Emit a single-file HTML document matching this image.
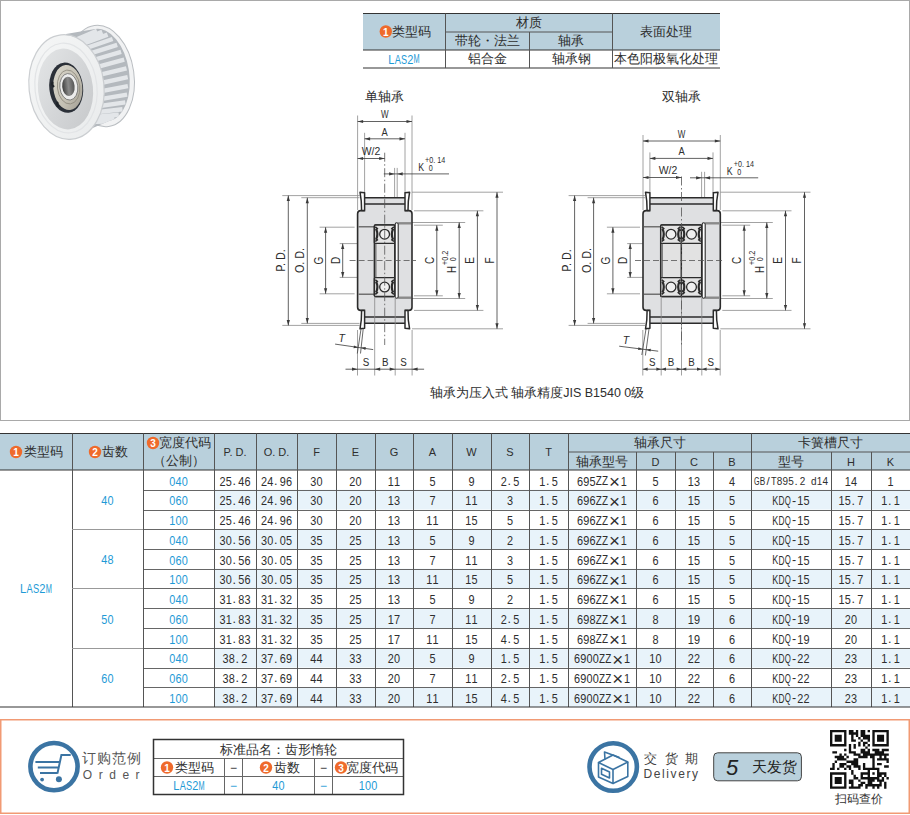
<!DOCTYPE html><html><head><meta charset="utf-8"><style>html,body{margin:0;padding:0;background:#fff;}body{width:910px;height:815px;overflow:hidden;position:relative;}svg{position:absolute;left:0;top:0;font-family:"Liberation Sans", sans-serif;}</style></head><body>
<svg width="910" height="815" viewBox="0 0 910 815">
<rect x="0" y="0" width="910" height="815" fill="#fff" />
<rect x="0.5" y="0.5" width="909" height="420" fill="none" stroke="#a9a9a9" stroke-width="1"/>
<defs>
<linearGradient id="gface" x1="0" y1="0" x2="1" y2="1">
 <stop offset="0" stop-color="#e4e6e7"/><stop offset="0.55" stop-color="#d3d5d7"/><stop offset="1" stop-color="#c6c8ca"/>
</linearGradient>
<linearGradient id="grim" x1="0" y1="0" x2="1" y2="1">
 <stop offset="0" stop-color="#f6f7f7"/><stop offset="1" stop-color="#e9ebec"/>
</linearGradient>
<linearGradient id="gbore" x1="0" y1="0" x2="1" y2="0">
 <stop offset="0" stop-color="#3e3e3e"/><stop offset="0.5" stop-color="#8a8a8a"/><stop offset="1" stop-color="#555"/>
</linearGradient>
<linearGradient id="gshield" x1="0" y1="0" x2="1" y2="1">
 <stop offset="0" stop-color="#dcd9cf"/><stop offset="0.6" stop-color="#c3bfb2"/><stop offset="1" stop-color="#9c988e"/>
</linearGradient>
<clipPath id="cteeth"><path d="M66 34 L95 29 A27 46 -8 0 1 109 121 L74 136 Z"/></clipPath>
</defs>
<ellipse cx="101.5" cy="76" rx="32.5" ry="51" transform="rotate(-8 101.5 76)" fill="#f1f2f3" stroke="#b9bdc1" stroke-width="1"/>
<path d="M66 34 L95 29 A27 46 -8 0 1 109 121 L74 136 Z" fill="#b4b9be"/>
<g clip-path="url(#cteeth)"><path d="M96.9 30.8 L51.9 49.7 M102.3 31.9 L57.3 49.6 M107.6 34.6 L62.6 51.3 M112.6 39.0 L67.6 54.5 M117.2 44.8 L72.2 59.1 M121.1 51.8 L76.1 65.0 M124.2 59.7 L79.2 71.8 M126.5 68.3 L81.5 79.2 M127.7 77.2 L82.7 87.0 M127.9 86.1 L82.9 94.7 M127.1 94.6 L82.1 102.1 M125.3 102.4 L80.3 108.7 M122.5 109.2 L77.5 114.4 M118.8 114.8 L73.8 118.9 M114.5 118.9 L69.5 121.8 M109.7 121.4 L64.7 123.2" stroke="#e3e6e9" stroke-width="4.4" fill="none"/></g>
<ellipse cx="66.5" cy="87" rx="37.5" ry="52.5" transform="rotate(-6 66.5 87)" fill="url(#grim)" stroke="#cbced1" stroke-width="1.2"/>
<ellipse cx="66" cy="88" rx="31" ry="45" transform="rotate(-6 66 88)" fill="none" stroke="#e2e4e6" stroke-width="1.2"/>
<ellipse cx="65.5" cy="89" rx="27.5" ry="40.5" transform="rotate(-6 65.5 89)" fill="url(#gface)"/>
<ellipse cx="66.2" cy="87.7" rx="16.9" ry="25.2" transform="rotate(-6 66.2 87.7)" fill="#2b3038"/>
<ellipse cx="67.8" cy="87.5" rx="14.5" ry="22.6" transform="rotate(-6 67.8 87.5)" fill="url(#gshield)"/><ellipse cx="68.6" cy="87" rx="11.2" ry="17" transform="rotate(-6 68.6 87)" fill="none" stroke="#8d887c" stroke-width="0.8"/>
<ellipse cx="68.8" cy="86.8" rx="9" ry="13.3" transform="rotate(-6 68.8 86.8)" fill="#ececec" stroke="#6f6f6f" stroke-width="0.8"/>
<ellipse cx="68.4" cy="86.4" rx="6.2" ry="9.7" transform="rotate(-6 68.4 86.4)" fill="url(#gbore)"/>
<path d="M53 82 q-2 2 1 5 M58 102 q-2 2 1 5" stroke="#1e2228" stroke-width="2.2" fill="none"/>
<rect x="363" y="13.5" width="357" height="36.5" fill="#b9d0dc" />
<line x1="363" y1="13.5" x2="720" y2="13.5" stroke="#333" stroke-width="1.2" />
<line x1="363" y1="50" x2="720" y2="50" stroke="#333" stroke-width="1" />
<line x1="363" y1="68" x2="720" y2="68" stroke="#333" stroke-width="1.2" />
<line x1="445.5" y1="32" x2="612.5" y2="32" stroke="#555" stroke-width="1" />
<line x1="445.5" y1="13.5" x2="445.5" y2="68" stroke="#555" stroke-width="1" />
<line x1="529.5" y1="32" x2="529.5" y2="68" stroke="#555" stroke-width="1" />
<line x1="612.5" y1="13.5" x2="612.5" y2="68" stroke="#555" stroke-width="1" />
<circle cx="385.8" cy="31.5" r="6.2" fill="#ef6a2b"/>
<text x="385.8" y="32.0" font-size="10" fill="#fff" text-anchor="middle" dominant-baseline="central" font-weight="bold">1</text>
<text x="411" y="31.5" font-size="12.5" fill="#2e2e2e" text-anchor="middle" dominant-baseline="central" >类型码</text>
<text x="528.5" y="22.5" font-size="12.5" fill="#2e2e2e" text-anchor="middle" dominant-baseline="central" >材质</text>
<text x="487" y="41" font-size="12.5" fill="#2e2e2e" text-anchor="middle" dominant-baseline="central" >带轮・法兰</text>
<text x="571" y="41" font-size="12.5" fill="#2e2e2e" text-anchor="middle" dominant-baseline="central" >轴承</text>
<text x="666" y="31.5" font-size="12.5" fill="#2e2e2e" text-anchor="middle" dominant-baseline="central" >表面处理</text>
<text x="0" y="0" font-size="12.5" fill="#1e9ad6" text-anchor="middle" dominant-baseline="central" transform="translate(391.40 59) scale(0.879 1)">L</text>
<text x="0" y="0" font-size="12.5" fill="#1e9ad6" text-anchor="middle" dominant-baseline="central" transform="translate(397.70 59) scale(0.733 1)">A</text>
<text x="0" y="0" font-size="12.5" fill="#1e9ad6" text-anchor="middle" dominant-baseline="central" transform="translate(404.00 59) scale(0.733 1)">S</text>
<text x="0" y="0" font-size="12.5" fill="#1e9ad6" text-anchor="middle" dominant-baseline="central" transform="translate(410.30 59) scale(0.879 1)">2</text>
<text x="0" y="0" font-size="12.5" fill="#1e9ad6" text-anchor="middle" dominant-baseline="central" transform="translate(416.60 59) scale(0.587 1)">M</text>
<text x="487" y="59" font-size="12.5" fill="#2e2e2e" text-anchor="middle" dominant-baseline="central" >铝合金</text>
<text x="571" y="59" font-size="12.5" fill="#2e2e2e" text-anchor="middle" dominant-baseline="central" >轴承钢</text>
<text x="666" y="59" font-size="12.5" fill="#2e2e2e" text-anchor="middle" dominant-baseline="central" >本色阳极氧化处理</text>
<line x1="282.3" y1="195.6" x2="359.6" y2="195.6" stroke="#8a8a8a" stroke-width="0.8" />
<line x1="282.3" y1="325.4" x2="359.6" y2="325.4" stroke="#8a8a8a" stroke-width="0.8" />
<line x1="301.3" y1="197.7" x2="359.6" y2="197.7" stroke="#8a8a8a" stroke-width="0.8" />
<line x1="301.3" y1="323.4" x2="359.6" y2="323.4" stroke="#8a8a8a" stroke-width="0.8" />
<line x1="319.6" y1="227.2" x2="354.6" y2="227.2" stroke="#8a8a8a" stroke-width="0.8" />
<line x1="319.6" y1="293.8" x2="354.6" y2="293.8" stroke="#8a8a8a" stroke-width="0.8" />
<line x1="339.7" y1="243.6" x2="369.6" y2="243.6" stroke="#8a8a8a" stroke-width="0.8" />
<line x1="339.7" y1="277.4" x2="369.6" y2="277.4" stroke="#8a8a8a" stroke-width="0.8" />
<line x1="414.0" y1="225.2" x2="442.8" y2="225.2" stroke="#8a8a8a" stroke-width="0.8" />
<line x1="414.0" y1="295.8" x2="442.8" y2="295.8" stroke="#8a8a8a" stroke-width="0.8" />
<line x1="411.0" y1="222.5" x2="465.2" y2="222.5" stroke="#8a8a8a" stroke-width="0.8" />
<line x1="411.0" y1="298.5" x2="465.2" y2="298.5" stroke="#8a8a8a" stroke-width="0.8" />
<line x1="414.0" y1="210.8" x2="483.4" y2="210.8" stroke="#8a8a8a" stroke-width="0.8" />
<line x1="414.0" y1="310.4" x2="483.4" y2="310.4" stroke="#8a8a8a" stroke-width="0.8" />
<line x1="412.0" y1="192.2" x2="503.0" y2="192.2" stroke="#8a8a8a" stroke-width="0.8" />
<line x1="412.0" y1="328.8" x2="503.0" y2="328.8" stroke="#8a8a8a" stroke-width="0.8" />
<line x1="357.6" y1="115.5" x2="357.6" y2="210" stroke="#8a8a8a" stroke-width="0.8" />
<line x1="412.0" y1="115.5" x2="412.0" y2="210" stroke="#8a8a8a" stroke-width="0.8" />
<line x1="364.6" y1="132.8" x2="364.6" y2="193" stroke="#8a8a8a" stroke-width="0.8" />
<line x1="405.0" y1="132.8" x2="405.0" y2="193" stroke="#8a8a8a" stroke-width="0.8" />
<line x1="394.6" y1="167.9" x2="394.6" y2="222" stroke="#8a8a8a" stroke-width="0.8" />
<line x1="397.2" y1="167.9" x2="397.2" y2="222" stroke="#8a8a8a" stroke-width="0.8" />
<line x1="357.5" y1="330" x2="357.5" y2="375.5" stroke="#8a8a8a" stroke-width="0.8" />
<line x1="374.7" y1="330" x2="374.7" y2="375.5" stroke="#8a8a8a" stroke-width="0.8" />
<line x1="395.2" y1="330" x2="395.2" y2="375.5" stroke="#8a8a8a" stroke-width="0.8" />
<line x1="412.1" y1="330" x2="412.1" y2="375.5" stroke="#8a8a8a" stroke-width="0.8" />
<path d="M357.6 213.79999999999998 Q357.6 210.6 360.8 210.6 L408.8 210.6 Q412.0 210.6 412.0 213.79999999999998 L412.0 307.2 Q412.0 310.4 408.8 310.4 L360.8 310.4 Q357.6 310.4 357.6 307.2 Z" fill="#dfe0e2" stroke="#2b2b2b" stroke-width="1.6"/>
<rect x="364.6" y="197.8" width="40.39999999999998" height="13.599999999999984" fill="#dfe0e2" />
<rect x="364.6" y="309.59999999999997" width="40.39999999999998" height="13.600000000000012" fill="#dfe0e2" />
<line x1="364.6" y1="197.8" x2="405.0" y2="197.8" stroke="#2b2b2b" stroke-width="1.5" />
<line x1="364.6" y1="204.0" x2="405.0" y2="204.0" stroke="#2b2b2b" stroke-width="1.7" />
<line x1="364.6" y1="317.0" x2="405.0" y2="317.0" stroke="#2b2b2b" stroke-width="1.7" />
<line x1="364.6" y1="323.2" x2="405.0" y2="323.2" stroke="#2b2b2b" stroke-width="1.5" />
<rect x="365.40000000000003" y="209" width="38.799999999999976" height="3.5" fill="#dfe0e2" />
<rect x="365.40000000000003" y="308.5" width="38.799999999999976" height="3.5" fill="#dfe0e2" />
<path d="M360.0 192.2 Q361.8 201.39999999999998 361.6 210.6 L364.6 210.6 L364.6 192.79999999999998 Z" fill="#fff" stroke="#2b2b2b" stroke-width="1.5" stroke-linejoin="round"/>
<path d="M409.6 192.2 Q407.8 201.39999999999998 408.0 210.6 L405.0 210.6 L405.0 192.79999999999998 Z" fill="#fff" stroke="#2b2b2b" stroke-width="1.5" stroke-linejoin="round"/>
<path d="M360.0 328.8 Q361.8 319.6 361.6 310.4 L364.6 310.4 L364.6 328.2 Z" fill="#fff" stroke="#2b2b2b" stroke-width="1.5" stroke-linejoin="round"/>
<path d="M409.6 328.8 Q407.8 319.6 408.0 310.4 L405.0 310.4 L405.0 328.2 Z" fill="#fff" stroke="#2b2b2b" stroke-width="1.5" stroke-linejoin="round"/>
<line x1="358.6" y1="226.8" x2="374.4" y2="226.8" stroke="#555" stroke-width="1.2" />
<line x1="358.6" y1="294.2" x2="374.4" y2="294.2" stroke="#555" stroke-width="1.2" />
<line x1="398.2" y1="223.3" x2="411.0" y2="223.3" stroke="#8a8a8a" stroke-width="2.4" />
<line x1="398.2" y1="297.7" x2="411.0" y2="297.7" stroke="#8a8a8a" stroke-width="2.4" />
<rect x="374.4" y="225" width="20.400000000000034" height="71.5" fill="#e2e2e2" stroke="#2b2b2b" stroke-width="1.5" rx="1.2"/>
<rect x="374.4" y="225" width="20.400000000000034" height="18.400000000000006" fill="#e4e4e4" stroke="#2b2b2b" stroke-width="1.4" rx="1"/>
<path d="M376.0 228.7 q2.8 5.5 0 11 M393.20000000000005 228.7 q-2.8 5.5 0 11" stroke="#2b2b2b" stroke-width="2.2" fill="none"/>
<path d="M375.3 226.89999999999998 l2.6 2.2 M375.3 241.5 l2.6 -2.2 M393.90000000000003 226.89999999999998 l-2.6 2.2 M393.90000000000003 241.5 l-2.6 -2.2" stroke="#2b2b2b" stroke-width="1.6"/>
<circle cx="384.6" cy="234.2" r="4.9" fill="#f0f0f0" stroke="#2b2b2b" stroke-width="1.3"/>
<rect x="374.4" y="277.6" width="20.400000000000034" height="18.899999999999977" fill="#e4e4e4" stroke="#2b2b2b" stroke-width="1.4" rx="1"/>
<path d="M376.0 281.55 q2.8 5.5 0 11 M393.20000000000005 281.55 q-2.8 5.5 0 11" stroke="#2b2b2b" stroke-width="2.2" fill="none"/>
<path d="M375.3 279.75 l2.6 2.2 M375.3 294.35 l2.6 -2.2 M393.90000000000003 279.75 l-2.6 2.2 M393.90000000000003 294.35 l-2.6 -2.2" stroke="#2b2b2b" stroke-width="1.6"/>
<circle cx="384.6" cy="287.05" r="4.9" fill="#f0f0f0" stroke="#2b2b2b" stroke-width="1.3"/>
<line x1="375.9" y1="243.4" x2="375.9" y2="277.6" stroke="#444" stroke-width="0.9" />
<rect x="395.2" y="222.8" width="3" height="75.5" rx="1.5" fill="#fff" stroke="#2b2b2b" stroke-width="1.1"/>
<line x1="374.7" y1="296.5" x2="374.7" y2="330" stroke="#888" stroke-width="0.8" />
<line x1="395.2" y1="296.5" x2="395.2" y2="330" stroke="#888" stroke-width="0.8" />
<line x1="384.7" y1="152.7" x2="384.7" y2="345" stroke="#555" stroke-width="0.8" stroke-dasharray="9 2.5 1.5 2.5"/>
<line x1="349.6" y1="260.5" x2="416.0" y2="260.5" stroke="#555" stroke-width="0.8" stroke-dasharray="6 3"/>
<line x1="357.6" y1="121.5" x2="412.0" y2="121.5" stroke="#3a3a3a" stroke-width="0.8" />
<path d="M357.60 121.50 L363.10 119.90 L363.10 123.10 Z" fill="#3a3a3a"/>
<path d="M412.00 121.50 L406.50 123.10 L406.50 119.90 Z" fill="#3a3a3a"/>
<line x1="364.6" y1="138.8" x2="405.0" y2="138.8" stroke="#3a3a3a" stroke-width="0.8" />
<path d="M364.60 138.80 L370.10 137.20 L370.10 140.40 Z" fill="#3a3a3a"/>
<path d="M405.00 138.80 L399.50 140.40 L399.50 137.20 Z" fill="#3a3a3a"/>
<line x1="357.6" y1="158.5" x2="384.7" y2="158.5" stroke="#3a3a3a" stroke-width="0.8" />
<path d="M357.60 158.50 L363.10 156.90 L363.10 160.10 Z" fill="#3a3a3a"/>
<path d="M384.70 158.50 L379.20 160.10 L379.20 156.90 Z" fill="#3a3a3a"/>
<line x1="383.8" y1="173.9" x2="449" y2="173.9" stroke="#3a3a3a" stroke-width="0.8" />
<path d="M394.60 173.90 L389.10 175.50 L389.10 172.30 Z" fill="#3a3a3a"/>
<path d="M397.20 173.90 L402.70 172.30 L402.70 175.50 Z" fill="#3a3a3a"/>
<line x1="288.3" y1="195.6" x2="288.3" y2="325.4" stroke="#3a3a3a" stroke-width="0.8" />
<path d="M288.30 195.60 L289.90 201.10 L286.70 201.10 Z" fill="#3a3a3a"/>
<path d="M288.30 325.40 L286.70 319.90 L289.90 319.90 Z" fill="#3a3a3a"/>
<line x1="307.3" y1="197.7" x2="307.3" y2="323.4" stroke="#3a3a3a" stroke-width="0.8" />
<path d="M307.30 197.70 L308.90 203.20 L305.70 203.20 Z" fill="#3a3a3a"/>
<path d="M307.30 323.40 L305.70 317.90 L308.90 317.90 Z" fill="#3a3a3a"/>
<line x1="325.6" y1="227.2" x2="325.6" y2="293.8" stroke="#3a3a3a" stroke-width="0.8" />
<path d="M325.60 227.20 L327.20 232.70 L324.00 232.70 Z" fill="#3a3a3a"/>
<path d="M325.60 293.80 L324.00 288.30 L327.20 288.30 Z" fill="#3a3a3a"/>
<line x1="342.7" y1="243.6" x2="342.7" y2="277.4" stroke="#3a3a3a" stroke-width="0.8" />
<path d="M342.70 243.60 L344.30 249.10 L341.10 249.10 Z" fill="#3a3a3a"/>
<path d="M342.70 277.40 L341.10 271.90 L344.30 271.90 Z" fill="#3a3a3a"/>
<line x1="436.8" y1="225.2" x2="436.8" y2="295.8" stroke="#3a3a3a" stroke-width="0.8" />
<path d="M436.80 225.20 L438.40 230.70 L435.20 230.70 Z" fill="#3a3a3a"/>
<path d="M436.80 295.80 L435.20 290.30 L438.40 290.30 Z" fill="#3a3a3a"/>
<line x1="459.2" y1="222.5" x2="459.2" y2="298.5" stroke="#3a3a3a" stroke-width="0.8" />
<path d="M459.20 222.50 L460.80 228.00 L457.60 228.00 Z" fill="#3a3a3a"/>
<path d="M459.20 298.50 L457.60 293.00 L460.80 293.00 Z" fill="#3a3a3a"/>
<line x1="477.4" y1="210.8" x2="477.4" y2="310.4" stroke="#3a3a3a" stroke-width="0.8" />
<path d="M477.40 210.80 L479.00 216.30 L475.80 216.30 Z" fill="#3a3a3a"/>
<path d="M477.40 310.40 L475.80 304.90 L479.00 304.90 Z" fill="#3a3a3a"/>
<line x1="497.0" y1="192.2" x2="497.0" y2="328.8" stroke="#3a3a3a" stroke-width="0.8" />
<path d="M497.00 192.20 L498.60 197.70 L495.40 197.70 Z" fill="#3a3a3a"/>
<path d="M497.00 328.80 L495.40 323.30 L498.60 323.30 Z" fill="#3a3a3a"/>
<line x1="345.5" y1="369.2" x2="424.1" y2="369.2" stroke="#3a3a3a" stroke-width="0.8" />
<path d="M357.50 369.20 L352.00 370.80 L352.00 367.60 Z" fill="#3a3a3a"/>
<path d="M412.10 369.20 L417.60 367.60 L417.60 370.80 Z" fill="#3a3a3a"/>
<path d="M374.70 369.20 L380.20 367.60 L380.20 370.80 Z" fill="#3a3a3a"/>
<path d="M395.20 369.20 L389.70 370.80 L389.70 367.60 Z" fill="#3a3a3a"/>
<line x1="361" y1="329" x2="357.3" y2="353.5" stroke="#444" stroke-width="0.8" />
<line x1="363.2" y1="329" x2="360.5" y2="353.5" stroke="#444" stroke-width="0.8" />
<line x1="335.1" y1="344.1" x2="373.2" y2="349.6" stroke="#3a3a3a" stroke-width="0.8" />
<path d="M358.22 347.44 L353.56 348.18 L353.96 345.41 Z" fill="#3a3a3a"/>
<path d="M361.12 347.86 L365.78 347.11 L365.38 349.89 Z" fill="#3a3a3a"/>
<text x="384.7" y="96.5" font-size="12.5" fill="#2e2e2e" text-anchor="middle" dominant-baseline="central" >单轴承</text>
<text x="0" y="0" font-size="11.5" fill="#2e2e2e" text-anchor="middle" dominant-baseline="central" transform="translate(384.7 114.2) scale(0.7 1)" >W</text>
<text x="0" y="0" font-size="11" fill="#2e2e2e" text-anchor="middle" dominant-baseline="central" transform="translate(384.7 132.0) scale(0.85 1)" >A</text>
<text x="0" y="0" font-size="11" fill="#2e2e2e" text-anchor="middle" dominant-baseline="central" transform="translate(371 150.9) scale(0.95 1)" >W/2</text>
<text x="0" y="0" font-size="11" fill="#2e2e2e" text-anchor="middle" dominant-baseline="central" transform="translate(421.2 166.8) scale(0.8 1)" >K</text>
<text x="0" y="0" font-size="9" fill="#2e2e2e" text-anchor="middle" dominant-baseline="central" transform="translate(435.2 160.0) scale(0.8 1)" >+0. 14</text>
<text x="0" y="0" font-size="9" fill="#2e2e2e" text-anchor="middle" dominant-baseline="central" transform="translate(430.7 168.4) scale(0.8 1)" >0</text>
<text x="0" y="0" font-size="12" fill="#2e2e2e" text-anchor="middle" dominant-baseline="central" transform="translate(280.6 260.5) rotate(-90) scale(0.9 1)">P. D.</text>
<text x="0" y="0" font-size="12" fill="#2e2e2e" text-anchor="middle" dominant-baseline="central" transform="translate(300.0 260.5) rotate(-90) scale(0.9 1)">O. D.</text>
<text x="0" y="0" font-size="12.5" fill="#2e2e2e" text-anchor="middle" dominant-baseline="central" transform="translate(318.1 260.5) rotate(-90) scale(0.8 1)">G</text>
<text x="0" y="0" font-size="12.5" fill="#2e2e2e" text-anchor="middle" dominant-baseline="central" transform="translate(335.3 260.5) rotate(-90) scale(0.8 1)">D</text>
<text x="0" y="0" font-size="12.5" fill="#2e2e2e" text-anchor="middle" dominant-baseline="central" transform="translate(429.6 260.5) rotate(-90) scale(0.8 1)">C</text>
<text x="0" y="0" font-size="12" fill="#2e2e2e" text-anchor="middle" dominant-baseline="central" transform="translate(452.0 269.5) rotate(-90) scale(0.8 1)">H</text>
<text x="0" y="0" font-size="8.5" fill="#2e2e2e" text-anchor="middle" dominant-baseline="central" transform="translate(445.2 257.9) rotate(-90) scale(0.85 1)">+0.2</text>
<text x="0" y="0" font-size="8.5" fill="#2e2e2e" text-anchor="middle" dominant-baseline="central" transform="translate(453.2 259.3) rotate(-90) scale(0.85 1)">0</text>
<text x="0" y="0" font-size="12.5" fill="#2e2e2e" text-anchor="middle" dominant-baseline="central" transform="translate(469.79999999999995 260.5) rotate(-90) scale(0.8 1)">E</text>
<text x="0" y="0" font-size="12.5" fill="#2e2e2e" text-anchor="middle" dominant-baseline="central" transform="translate(489.1 260.5) rotate(-90) scale(0.8 1)">F</text>
<text x="0" y="0" font-size="11.5" fill="#2e2e2e" text-anchor="middle" dominant-baseline="central" transform="translate(366 362) scale(0.85 1)" >S</text>
<text x="0" y="0" font-size="11.5" fill="#2e2e2e" text-anchor="middle" dominant-baseline="central" transform="translate(385.3 362) scale(0.85 1)" >B</text>
<text x="0" y="0" font-size="11.5" fill="#2e2e2e" text-anchor="middle" dominant-baseline="central" transform="translate(403.6 362) scale(0.85 1)" >S</text>
<text x="341.8" y="337.8" font-size="10.5" fill="#2e2e2e" text-anchor="middle" dominant-baseline="central" font-style="italic">T</text>
<line x1="568.6" y1="195.6" x2="645.0" y2="195.6" stroke="#8a8a8a" stroke-width="0.8" />
<line x1="568.6" y1="325.4" x2="645.0" y2="325.4" stroke="#8a8a8a" stroke-width="0.8" />
<line x1="587.6" y1="197.7" x2="645.0" y2="197.7" stroke="#8a8a8a" stroke-width="0.8" />
<line x1="587.6" y1="323.4" x2="645.0" y2="323.4" stroke="#8a8a8a" stroke-width="0.8" />
<line x1="606.9" y1="227.2" x2="640.0" y2="227.2" stroke="#8a8a8a" stroke-width="0.8" />
<line x1="606.9" y1="293.8" x2="640.0" y2="293.8" stroke="#8a8a8a" stroke-width="0.8" />
<line x1="627.2" y1="243.6" x2="655.0" y2="243.6" stroke="#8a8a8a" stroke-width="0.8" />
<line x1="627.2" y1="277.4" x2="655.0" y2="277.4" stroke="#8a8a8a" stroke-width="0.8" />
<line x1="722.3" y1="225.2" x2="750.2" y2="225.2" stroke="#8a8a8a" stroke-width="0.8" />
<line x1="722.3" y1="295.8" x2="750.2" y2="295.8" stroke="#8a8a8a" stroke-width="0.8" />
<line x1="719.3" y1="222.5" x2="772.8" y2="222.5" stroke="#8a8a8a" stroke-width="0.8" />
<line x1="719.3" y1="298.5" x2="772.8" y2="298.5" stroke="#8a8a8a" stroke-width="0.8" />
<line x1="722.3" y1="210.8" x2="791.5" y2="210.8" stroke="#8a8a8a" stroke-width="0.8" />
<line x1="722.3" y1="310.4" x2="791.5" y2="310.4" stroke="#8a8a8a" stroke-width="0.8" />
<line x1="720.3" y1="192.2" x2="810.5" y2="192.2" stroke="#8a8a8a" stroke-width="0.8" />
<line x1="720.3" y1="328.8" x2="810.5" y2="328.8" stroke="#8a8a8a" stroke-width="0.8" />
<line x1="643.0" y1="135.0" x2="643.0" y2="210" stroke="#8a8a8a" stroke-width="0.8" />
<line x1="720.3" y1="135.0" x2="720.3" y2="210" stroke="#8a8a8a" stroke-width="0.8" />
<line x1="649.9" y1="152.4" x2="649.9" y2="193" stroke="#8a8a8a" stroke-width="0.8" />
<line x1="713.0" y1="152.4" x2="713.0" y2="193" stroke="#8a8a8a" stroke-width="0.8" />
<line x1="701.6" y1="171.8" x2="701.6" y2="222" stroke="#8a8a8a" stroke-width="0.8" />
<line x1="704.6" y1="171.8" x2="704.6" y2="222" stroke="#8a8a8a" stroke-width="0.8" />
<line x1="642.8" y1="330" x2="642.8" y2="375.5" stroke="#8a8a8a" stroke-width="0.8" />
<line x1="661.2" y1="330" x2="661.2" y2="375.5" stroke="#8a8a8a" stroke-width="0.8" />
<line x1="681.5" y1="330" x2="681.5" y2="375.5" stroke="#8a8a8a" stroke-width="0.8" />
<line x1="701.8" y1="330" x2="701.8" y2="375.5" stroke="#8a8a8a" stroke-width="0.8" />
<line x1="720.2" y1="330" x2="720.2" y2="375.5" stroke="#8a8a8a" stroke-width="0.8" />
<path d="M643.0 213.79999999999998 Q643.0 210.6 646.2 210.6 L717.0999999999999 210.6 Q720.3 210.6 720.3 213.79999999999998 L720.3 307.2 Q720.3 310.4 717.0999999999999 310.4 L646.2 310.4 Q643.0 310.4 643.0 307.2 Z" fill="#dfe0e2" stroke="#2b2b2b" stroke-width="1.6"/>
<rect x="649.9" y="197.8" width="63.39999999999998" height="13.599999999999984" fill="#dfe0e2" />
<rect x="649.9" y="309.59999999999997" width="63.39999999999998" height="13.600000000000012" fill="#dfe0e2" />
<line x1="649.9" y1="197.8" x2="713.3" y2="197.8" stroke="#2b2b2b" stroke-width="1.5" />
<line x1="649.9" y1="204.0" x2="713.3" y2="204.0" stroke="#2b2b2b" stroke-width="1.7" />
<line x1="649.9" y1="317.0" x2="713.3" y2="317.0" stroke="#2b2b2b" stroke-width="1.7" />
<line x1="649.9" y1="323.2" x2="713.3" y2="323.2" stroke="#2b2b2b" stroke-width="1.5" />
<rect x="650.6999999999999" y="209" width="61.799999999999976" height="3.5" fill="#dfe0e2" />
<rect x="650.6999999999999" y="308.5" width="61.799999999999976" height="3.5" fill="#dfe0e2" />
<path d="M645.5 192.2 Q647.3 201.39999999999998 647.1 210.6 L649.9 210.6 L649.9 192.79999999999998 Z" fill="#fff" stroke="#2b2b2b" stroke-width="1.5" stroke-linejoin="round"/>
<path d="M718.0 192.2 Q716.2 201.39999999999998 716.4 210.6 L713.3 210.6 L713.3 192.79999999999998 Z" fill="#fff" stroke="#2b2b2b" stroke-width="1.5" stroke-linejoin="round"/>
<path d="M645.5 328.8 Q647.3 319.6 647.1 310.4 L649.9 310.4 L649.9 328.2 Z" fill="#fff" stroke="#2b2b2b" stroke-width="1.5" stroke-linejoin="round"/>
<path d="M718.0 328.8 Q716.2 319.6 716.4 310.4 L713.3 310.4 L713.3 328.2 Z" fill="#fff" stroke="#2b2b2b" stroke-width="1.5" stroke-linejoin="round"/>
<line x1="644.0" y1="226.8" x2="660.7" y2="226.8" stroke="#555" stroke-width="1.2" />
<line x1="644.0" y1="294.2" x2="660.7" y2="294.2" stroke="#555" stroke-width="1.2" />
<line x1="705.2" y1="223.3" x2="719.3" y2="223.3" stroke="#8a8a8a" stroke-width="2.4" />
<line x1="705.2" y1="297.7" x2="719.3" y2="297.7" stroke="#8a8a8a" stroke-width="2.4" />
<rect x="660.7" y="225" width="41.0" height="71.5" fill="#e2e2e2" stroke="#2b2b2b" stroke-width="1.5" rx="1.2"/>
<rect x="660.7" y="225" width="41.0" height="18.400000000000006" fill="#e4e4e4" stroke="#2b2b2b" stroke-width="1.4" rx="1"/>
<path d="M662.4 228.7 q2.8 5.5 0 11 M679.6 228.7 q-2.8 5.5 0 11" stroke="#2b2b2b" stroke-width="2.2" fill="none"/>
<path d="M661.7 226.89999999999998 l2.6 2.2 M661.7 241.5 l2.6 -2.2 M680.3 226.89999999999998 l-2.6 2.2 M680.3 241.5 l-2.6 -2.2" stroke="#2b2b2b" stroke-width="1.6"/>
<circle cx="671.0" cy="234.2" r="4.9" fill="#f0f0f0" stroke="#2b2b2b" stroke-width="1.3"/>
<path d="M682.9 228.7 q2.8 5.5 0 11 M700.1 228.7 q-2.8 5.5 0 11" stroke="#2b2b2b" stroke-width="2.2" fill="none"/>
<path d="M682.2 226.89999999999998 l2.6 2.2 M682.2 241.5 l2.6 -2.2 M700.8 226.89999999999998 l-2.6 2.2 M700.8 241.5 l-2.6 -2.2" stroke="#2b2b2b" stroke-width="1.6"/>
<circle cx="691.5" cy="234.2" r="4.9" fill="#f0f0f0" stroke="#2b2b2b" stroke-width="1.3"/>
<rect x="660.7" y="277.6" width="41.0" height="18.899999999999977" fill="#e4e4e4" stroke="#2b2b2b" stroke-width="1.4" rx="1"/>
<path d="M662.4 281.55 q2.8 5.5 0 11 M679.6 281.55 q-2.8 5.5 0 11" stroke="#2b2b2b" stroke-width="2.2" fill="none"/>
<path d="M661.7 279.75 l2.6 2.2 M661.7 294.35 l2.6 -2.2 M680.3 279.75 l-2.6 2.2 M680.3 294.35 l-2.6 -2.2" stroke="#2b2b2b" stroke-width="1.6"/>
<circle cx="671.0" cy="287.05" r="4.9" fill="#f0f0f0" stroke="#2b2b2b" stroke-width="1.3"/>
<path d="M682.9 281.55 q2.8 5.5 0 11 M700.1 281.55 q-2.8 5.5 0 11" stroke="#2b2b2b" stroke-width="2.2" fill="none"/>
<path d="M682.2 279.75 l2.6 2.2 M682.2 294.35 l2.6 -2.2 M700.8 279.75 l-2.6 2.2 M700.8 294.35 l-2.6 -2.2" stroke="#2b2b2b" stroke-width="1.6"/>
<circle cx="691.5" cy="287.05" r="4.9" fill="#f0f0f0" stroke="#2b2b2b" stroke-width="1.3"/>
<line x1="681.3" y1="225" x2="681.3" y2="296.5" stroke="#2b2b2b" stroke-width="1.5" />
<path d="M679.3 230.2 h4 M679.3 238.2 h4" stroke="#2b2b2b" stroke-width="1.6"/>
<path d="M679.3 283 h4 M679.3 291 h4" stroke="#2b2b2b" stroke-width="1.6"/>
<line x1="662.2" y1="243.4" x2="662.2" y2="277.6" stroke="#444" stroke-width="0.9" />
<rect x="702.2" y="222.8" width="3" height="75.5" rx="1.5" fill="#fff" stroke="#2b2b2b" stroke-width="1.1"/>
<line x1="661.2" y1="296.5" x2="661.2" y2="330" stroke="#888" stroke-width="0.8" />
<line x1="681.5" y1="296.5" x2="681.5" y2="330" stroke="#888" stroke-width="0.8" />
<line x1="701.8" y1="296.5" x2="701.8" y2="330" stroke="#888" stroke-width="0.8" />
<line x1="681.5" y1="176.5" x2="681.5" y2="345" stroke="#555" stroke-width="0.8" stroke-dasharray="9 2.5 1.5 2.5"/>
<line x1="635.0" y1="260.5" x2="724.3" y2="260.5" stroke="#555" stroke-width="0.8" stroke-dasharray="6 3"/>
<line x1="643.0" y1="141.0" x2="720.3" y2="141.0" stroke="#3a3a3a" stroke-width="0.8" />
<path d="M643.00 141.00 L648.50 139.40 L648.50 142.60 Z" fill="#3a3a3a"/>
<path d="M720.30 141.00 L714.80 142.60 L714.80 139.40 Z" fill="#3a3a3a"/>
<line x1="649.9" y1="158.4" x2="713.0" y2="158.4" stroke="#3a3a3a" stroke-width="0.8" />
<path d="M649.90 158.40 L655.40 156.80 L655.40 160.00 Z" fill="#3a3a3a"/>
<path d="M713.00 158.40 L707.50 160.00 L707.50 156.80 Z" fill="#3a3a3a"/>
<line x1="643.0" y1="177.5" x2="681.5" y2="177.5" stroke="#3a3a3a" stroke-width="0.8" />
<path d="M643.00 177.50 L648.50 175.90 L648.50 179.10 Z" fill="#3a3a3a"/>
<path d="M681.50 177.50 L676.00 179.10 L676.00 175.90 Z" fill="#3a3a3a"/>
<line x1="690" y1="177.8" x2="758.2" y2="177.8" stroke="#3a3a3a" stroke-width="0.8" />
<path d="M701.60 177.80 L696.10 179.40 L696.10 176.20 Z" fill="#3a3a3a"/>
<path d="M704.60 177.80 L710.10 176.20 L710.10 179.40 Z" fill="#3a3a3a"/>
<line x1="574.6" y1="195.6" x2="574.6" y2="325.4" stroke="#3a3a3a" stroke-width="0.8" />
<path d="M574.60 195.60 L576.20 201.10 L573.00 201.10 Z" fill="#3a3a3a"/>
<path d="M574.60 325.40 L573.00 319.90 L576.20 319.90 Z" fill="#3a3a3a"/>
<line x1="593.6" y1="197.7" x2="593.6" y2="323.4" stroke="#3a3a3a" stroke-width="0.8" />
<path d="M593.60 197.70 L595.20 203.20 L592.00 203.20 Z" fill="#3a3a3a"/>
<path d="M593.60 323.40 L592.00 317.90 L595.20 317.90 Z" fill="#3a3a3a"/>
<line x1="612.9" y1="227.2" x2="612.9" y2="293.8" stroke="#3a3a3a" stroke-width="0.8" />
<path d="M612.90 227.20 L614.50 232.70 L611.30 232.70 Z" fill="#3a3a3a"/>
<path d="M612.90 293.80 L611.30 288.30 L614.50 288.30 Z" fill="#3a3a3a"/>
<line x1="630.2" y1="243.6" x2="630.2" y2="277.4" stroke="#3a3a3a" stroke-width="0.8" />
<path d="M630.20 243.60 L631.80 249.10 L628.60 249.10 Z" fill="#3a3a3a"/>
<path d="M630.20 277.40 L628.60 271.90 L631.80 271.90 Z" fill="#3a3a3a"/>
<line x1="744.2" y1="225.2" x2="744.2" y2="295.8" stroke="#3a3a3a" stroke-width="0.8" />
<path d="M744.20 225.20 L745.80 230.70 L742.60 230.70 Z" fill="#3a3a3a"/>
<path d="M744.20 295.80 L742.60 290.30 L745.80 290.30 Z" fill="#3a3a3a"/>
<line x1="766.8" y1="222.5" x2="766.8" y2="298.5" stroke="#3a3a3a" stroke-width="0.8" />
<path d="M766.80 222.50 L768.40 228.00 L765.20 228.00 Z" fill="#3a3a3a"/>
<path d="M766.80 298.50 L765.20 293.00 L768.40 293.00 Z" fill="#3a3a3a"/>
<line x1="785.5" y1="210.8" x2="785.5" y2="310.4" stroke="#3a3a3a" stroke-width="0.8" />
<path d="M785.50 210.80 L787.10 216.30 L783.90 216.30 Z" fill="#3a3a3a"/>
<path d="M785.50 310.40 L783.90 304.90 L787.10 304.90 Z" fill="#3a3a3a"/>
<line x1="804.5" y1="192.2" x2="804.5" y2="328.8" stroke="#3a3a3a" stroke-width="0.8" />
<path d="M804.50 192.20 L806.10 197.70 L802.90 197.70 Z" fill="#3a3a3a"/>
<path d="M804.50 328.80 L802.90 323.30 L806.10 323.30 Z" fill="#3a3a3a"/>
<line x1="642.8" y1="369.2" x2="720.2" y2="369.2" stroke="#3a3a3a" stroke-width="0.8" />
<path d="M642.80 369.20 L647.60 367.60 L647.60 370.80 Z" fill="#3a3a3a"/>
<path d="M661.20 369.20 L656.40 370.80 L656.40 367.60 Z" fill="#3a3a3a"/>
<path d="M661.20 369.20 L666.00 367.60 L666.00 370.80 Z" fill="#3a3a3a"/>
<path d="M681.50 369.20 L676.70 370.80 L676.70 367.60 Z" fill="#3a3a3a"/>
<path d="M681.50 369.20 L686.30 367.60 L686.30 370.80 Z" fill="#3a3a3a"/>
<path d="M701.80 369.20 L697.00 370.80 L697.00 367.60 Z" fill="#3a3a3a"/>
<path d="M701.80 369.20 L706.60 367.60 L706.60 370.80 Z" fill="#3a3a3a"/>
<path d="M720.20 369.20 L715.40 370.80 L715.40 367.60 Z" fill="#3a3a3a"/>
<line x1="646" y1="329" x2="641.8" y2="355" stroke="#444" stroke-width="0.8" />
<line x1="649" y1="329" x2="645.4" y2="355.5" stroke="#444" stroke-width="0.8" />
<line x1="619.2" y1="346.2" x2="658.2" y2="351.2" stroke="#3a3a3a" stroke-width="0.8" />
<path d="M642.73 349.22 L638.09 350.03 L638.45 347.26 Z" fill="#3a3a3a"/>
<path d="M646.19 349.66 L650.83 348.84 L650.48 351.62 Z" fill="#3a3a3a"/>
<text x="681.5" y="97" font-size="12.5" fill="#2e2e2e" text-anchor="middle" dominant-baseline="central" >双轴承</text>
<text x="0" y="0" font-size="11.5" fill="#2e2e2e" text-anchor="middle" dominant-baseline="central" transform="translate(681.5 133.7) scale(0.7 1)" >W</text>
<text x="0" y="0" font-size="11" fill="#2e2e2e" text-anchor="middle" dominant-baseline="central" transform="translate(681.5 151.6) scale(0.85 1)" >A</text>
<text x="0" y="0" font-size="11" fill="#2e2e2e" text-anchor="middle" dominant-baseline="central" transform="translate(668 169.9) scale(0.95 1)" >W/2</text>
<text x="0" y="0" font-size="11" fill="#2e2e2e" text-anchor="middle" dominant-baseline="central" transform="translate(729.8 171) scale(0.8 1)" >K</text>
<text x="0" y="0" font-size="9" fill="#2e2e2e" text-anchor="middle" dominant-baseline="central" transform="translate(743.8 164.2) scale(0.8 1)" >+0. 14</text>
<text x="0" y="0" font-size="9" fill="#2e2e2e" text-anchor="middle" dominant-baseline="central" transform="translate(739.3 172.6) scale(0.8 1)" >0</text>
<text x="0" y="0" font-size="12" fill="#2e2e2e" text-anchor="middle" dominant-baseline="central" transform="translate(566.9 260.5) rotate(-90) scale(0.9 1)">P. D.</text>
<text x="0" y="0" font-size="12" fill="#2e2e2e" text-anchor="middle" dominant-baseline="central" transform="translate(586.3000000000001 260.5) rotate(-90) scale(0.9 1)">O. D.</text>
<text x="0" y="0" font-size="12.5" fill="#2e2e2e" text-anchor="middle" dominant-baseline="central" transform="translate(605.4 260.5) rotate(-90) scale(0.8 1)">G</text>
<text x="0" y="0" font-size="12.5" fill="#2e2e2e" text-anchor="middle" dominant-baseline="central" transform="translate(622.8000000000001 260.5) rotate(-90) scale(0.8 1)">D</text>
<text x="0" y="0" font-size="12.5" fill="#2e2e2e" text-anchor="middle" dominant-baseline="central" transform="translate(737.0 260.5) rotate(-90) scale(0.8 1)">C</text>
<text x="0" y="0" font-size="12" fill="#2e2e2e" text-anchor="middle" dominant-baseline="central" transform="translate(759.5999999999999 269.5) rotate(-90) scale(0.8 1)">H</text>
<text x="0" y="0" font-size="8.5" fill="#2e2e2e" text-anchor="middle" dominant-baseline="central" transform="translate(752.8 257.9) rotate(-90) scale(0.85 1)">+0.2</text>
<text x="0" y="0" font-size="8.5" fill="#2e2e2e" text-anchor="middle" dominant-baseline="central" transform="translate(760.8 259.3) rotate(-90) scale(0.85 1)">0</text>
<text x="0" y="0" font-size="12.5" fill="#2e2e2e" text-anchor="middle" dominant-baseline="central" transform="translate(777.9 260.5) rotate(-90) scale(0.8 1)">E</text>
<text x="0" y="0" font-size="12.5" fill="#2e2e2e" text-anchor="middle" dominant-baseline="central" transform="translate(796.6 260.5) rotate(-90) scale(0.8 1)">F</text>
<text x="0" y="0" font-size="11.5" fill="#2e2e2e" text-anchor="middle" dominant-baseline="central" transform="translate(652.3 362) scale(0.85 1)" >S</text>
<text x="0" y="0" font-size="11.5" fill="#2e2e2e" text-anchor="middle" dominant-baseline="central" transform="translate(671 362) scale(0.85 1)" >B</text>
<text x="0" y="0" font-size="11.5" fill="#2e2e2e" text-anchor="middle" dominant-baseline="central" transform="translate(691.5 362) scale(0.85 1)" >B</text>
<text x="0" y="0" font-size="11.5" fill="#2e2e2e" text-anchor="middle" dominant-baseline="central" transform="translate(710.8 362) scale(0.85 1)" >S</text>
<text x="626" y="339.8" font-size="10.5" fill="#2e2e2e" text-anchor="middle" dominant-baseline="central" font-style="italic">T</text>
<text x="537" y="393" font-size="12.5" fill="#2e2e2e" text-anchor="middle" dominant-baseline="central" >轴承为压入式 轴承精度JIS B1540 0级</text>
<rect x="0" y="433.5" width="910" height="36.5" fill="#b9d0dc" />
<rect x="214.5" y="489.75" width="695.5" height="19.75" fill="#e8f3fa" />
<rect x="214.5" y="529.25" width="695.5" height="19.75" fill="#e8f3fa" />
<rect x="214.5" y="568.75" width="695.5" height="19.75" fill="#e8f3fa" />
<rect x="214.5" y="608.25" width="695.5" height="19.75" fill="#e8f3fa" />
<rect x="214.5" y="647.75" width="695.5" height="19.75" fill="#e8f3fa" />
<rect x="214.5" y="687.25" width="695.5" height="19.75" fill="#e8f3fa" />
<line x1="0" y1="433.5" x2="910" y2="433.5" stroke="#333" stroke-width="1.2" />
<line x1="0" y1="470" x2="910" y2="470" stroke="#333" stroke-width="1.2" />
<line x1="568" y1="452" x2="910" y2="452" stroke="#555" stroke-width="1" />
<line x1="72.5" y1="433.5" x2="72.5" y2="470" stroke="#555" stroke-width="1" />
<line x1="143.5" y1="433.5" x2="143.5" y2="470" stroke="#555" stroke-width="1" />
<line x1="214.5" y1="433.5" x2="214.5" y2="470" stroke="#555" stroke-width="1" />
<line x1="256.5" y1="433.5" x2="256.5" y2="470" stroke="#555" stroke-width="1" />
<line x1="297.5" y1="433.5" x2="297.5" y2="470" stroke="#555" stroke-width="1" />
<line x1="336.5" y1="433.5" x2="336.5" y2="470" stroke="#555" stroke-width="1" />
<line x1="375.5" y1="433.5" x2="375.5" y2="470" stroke="#555" stroke-width="1" />
<line x1="413.5" y1="433.5" x2="413.5" y2="470" stroke="#555" stroke-width="1" />
<line x1="452.5" y1="433.5" x2="452.5" y2="470" stroke="#555" stroke-width="1" />
<line x1="491.5" y1="433.5" x2="491.5" y2="470" stroke="#555" stroke-width="1" />
<line x1="529.5" y1="433.5" x2="529.5" y2="470" stroke="#555" stroke-width="1" />
<line x1="568.5" y1="433.5" x2="568.5" y2="470" stroke="#555" stroke-width="1" />
<line x1="636.5" y1="452" x2="636.5" y2="470" stroke="#555" stroke-width="1" />
<line x1="675.5" y1="452" x2="675.5" y2="470" stroke="#555" stroke-width="1" />
<line x1="713.5" y1="452" x2="713.5" y2="470" stroke="#555" stroke-width="1" />
<line x1="751.5" y1="433.5" x2="751.5" y2="470" stroke="#555" stroke-width="1" />
<line x1="831.5" y1="452" x2="831.5" y2="470" stroke="#555" stroke-width="1" />
<line x1="871.5" y1="452" x2="871.5" y2="470" stroke="#555" stroke-width="1" />
<line x1="72.5" y1="470" x2="72.5" y2="707" stroke="#555" stroke-width="1" />
<line x1="143.5" y1="470" x2="143.5" y2="707" stroke="#555" stroke-width="1" />
<line x1="214.5" y1="470" x2="214.5" y2="707" stroke="#555" stroke-width="1" />
<line x1="256.5" y1="470" x2="256.5" y2="707" stroke="#555" stroke-width="1" />
<line x1="297.5" y1="470" x2="297.5" y2="707" stroke="#555" stroke-width="1" />
<line x1="336.5" y1="470" x2="336.5" y2="707" stroke="#555" stroke-width="1" />
<line x1="375.5" y1="470" x2="375.5" y2="707" stroke="#555" stroke-width="1" />
<line x1="413.5" y1="470" x2="413.5" y2="707" stroke="#555" stroke-width="1" />
<line x1="452.5" y1="470" x2="452.5" y2="707" stroke="#555" stroke-width="1" />
<line x1="491.5" y1="470" x2="491.5" y2="707" stroke="#555" stroke-width="1" />
<line x1="529.5" y1="470" x2="529.5" y2="707" stroke="#555" stroke-width="1" />
<line x1="568.5" y1="470" x2="568.5" y2="707" stroke="#555" stroke-width="1" />
<line x1="636.5" y1="470" x2="636.5" y2="707" stroke="#555" stroke-width="1" />
<line x1="675.5" y1="470" x2="675.5" y2="707" stroke="#555" stroke-width="1" />
<line x1="713.5" y1="470" x2="713.5" y2="707" stroke="#555" stroke-width="1" />
<line x1="751.5" y1="470" x2="751.5" y2="707" stroke="#555" stroke-width="1" />
<line x1="831.5" y1="470" x2="831.5" y2="707" stroke="#555" stroke-width="1" />
<line x1="871.5" y1="470" x2="871.5" y2="707" stroke="#555" stroke-width="1" />
<line x1="143" y1="490.5" x2="910" y2="490.5" stroke="#555" stroke-width="0.9" />
<line x1="143" y1="510.5" x2="910" y2="510.5" stroke="#555" stroke-width="0.9" />
<line x1="143" y1="529.5" x2="910" y2="529.5" stroke="#555" stroke-width="0.9" />
<line x1="72" y1="529.5" x2="143" y2="529.5" stroke="#999" stroke-width="1" />
<line x1="143" y1="549.5" x2="910" y2="549.5" stroke="#555" stroke-width="0.9" />
<line x1="143" y1="569.5" x2="910" y2="569.5" stroke="#555" stroke-width="0.9" />
<line x1="143" y1="588.5" x2="910" y2="588.5" stroke="#555" stroke-width="0.9" />
<line x1="72" y1="588.5" x2="143" y2="588.5" stroke="#999" stroke-width="1" />
<line x1="143" y1="608.5" x2="910" y2="608.5" stroke="#555" stroke-width="0.9" />
<line x1="143" y1="628.5" x2="910" y2="628.5" stroke="#555" stroke-width="0.9" />
<line x1="143" y1="648.5" x2="910" y2="648.5" stroke="#555" stroke-width="0.9" />
<line x1="72" y1="648.5" x2="143" y2="648.5" stroke="#999" stroke-width="1" />
<line x1="143" y1="668.5" x2="910" y2="668.5" stroke="#555" stroke-width="0.9" />
<line x1="143" y1="687.5" x2="910" y2="687.5" stroke="#555" stroke-width="0.9" />
<line x1="0" y1="707" x2="910" y2="707" stroke="#333" stroke-width="1.2" />
<circle cx="16" cy="452" r="6.2" fill="#ef6a2b"/>
<text x="16" y="452.5" font-size="10" fill="#fff" text-anchor="middle" dominant-baseline="central" font-weight="bold">1</text>
<text x="43" y="452" font-size="12.5" fill="#2e2e2e" text-anchor="middle" dominant-baseline="central" >类型码</text>
<circle cx="95" cy="452" r="6.2" fill="#ef6a2b"/>
<text x="95" y="452.5" font-size="10" fill="#fff" text-anchor="middle" dominant-baseline="central" font-weight="bold">2</text>
<text x="115" y="452" font-size="12.5" fill="#2e2e2e" text-anchor="middle" dominant-baseline="central" >齿数</text>
<circle cx="153" cy="443" r="6.2" fill="#ef6a2b"/>
<text x="153" y="443.5" font-size="10" fill="#fff" text-anchor="middle" dominant-baseline="central" font-weight="bold">3</text>
<text x="185" y="443" font-size="12.5" fill="#2e2e2e" text-anchor="middle" dominant-baseline="central" >宽度代码</text>
<text x="178.5" y="461" font-size="12.5" fill="#2e2e2e" text-anchor="middle" dominant-baseline="central" >（公制）</text>
<text x="235.0" y="452" font-size="11" fill="#2e2e2e" text-anchor="middle" dominant-baseline="central" >P. D.</text>
<text x="276.5" y="452" font-size="11" fill="#2e2e2e" text-anchor="middle" dominant-baseline="central" >O. D.</text>
<text x="316.5" y="452" font-size="11" fill="#2e2e2e" text-anchor="middle" dominant-baseline="central" >F</text>
<text x="355.5" y="452" font-size="11" fill="#2e2e2e" text-anchor="middle" dominant-baseline="central" >E</text>
<text x="394.0" y="452" font-size="11" fill="#2e2e2e" text-anchor="middle" dominant-baseline="central" >G</text>
<text x="432.5" y="452" font-size="11" fill="#2e2e2e" text-anchor="middle" dominant-baseline="central" >A</text>
<text x="471.5" y="452" font-size="11" fill="#2e2e2e" text-anchor="middle" dominant-baseline="central" >W</text>
<text x="510.0" y="452" font-size="11" fill="#2e2e2e" text-anchor="middle" dominant-baseline="central" >S</text>
<text x="548.5" y="452" font-size="11" fill="#2e2e2e" text-anchor="middle" dominant-baseline="central" >T</text>
<text x="659.5" y="442.5" font-size="12.5" fill="#2e2e2e" text-anchor="middle" dominant-baseline="central" >轴承尺寸</text>
<text x="830.5" y="442.5" font-size="12.5" fill="#2e2e2e" text-anchor="middle" dominant-baseline="central" >卡簧槽尺寸</text>
<text x="602.0" y="461.5" font-size="12.5" fill="#2e2e2e" text-anchor="middle" dominant-baseline="central" >轴承型号</text>
<text x="655.5" y="461.5" font-size="11" fill="#2e2e2e" text-anchor="middle" dominant-baseline="central" >D</text>
<text x="694.0" y="461.5" font-size="11" fill="#2e2e2e" text-anchor="middle" dominant-baseline="central" >C</text>
<text x="732.0" y="461.5" font-size="11" fill="#2e2e2e" text-anchor="middle" dominant-baseline="central" >B</text>
<text x="791.0" y="461.5" font-size="12.5" fill="#2e2e2e" text-anchor="middle" dominant-baseline="central" >型号</text>
<text x="851.0" y="461.5" font-size="11" fill="#2e2e2e" text-anchor="middle" dominant-baseline="central" >H</text>
<text x="890.5" y="461.5" font-size="11" fill="#2e2e2e" text-anchor="middle" dominant-baseline="central" >K</text>
<text x="0" y="0" font-size="12" fill="#1e9ad6" text-anchor="middle" dominant-baseline="central" transform="translate(23.20 589) scale(0.930 1)">L</text>
<text x="0" y="0" font-size="12" fill="#1e9ad6" text-anchor="middle" dominant-baseline="central" transform="translate(29.60 589) scale(0.776 1)">A</text>
<text x="0" y="0" font-size="12" fill="#1e9ad6" text-anchor="middle" dominant-baseline="central" transform="translate(36.00 589) scale(0.776 1)">S</text>
<text x="0" y="0" font-size="12" fill="#1e9ad6" text-anchor="middle" dominant-baseline="central" transform="translate(42.40 589) scale(0.930 1)">2</text>
<text x="0" y="0" font-size="12" fill="#1e9ad6" text-anchor="middle" dominant-baseline="central" transform="translate(48.80 589) scale(0.621 1)">M</text>
<text x="0" y="0" font-size="12.5" fill="#1e9ad6" text-anchor="middle" dominant-baseline="central" transform="translate(104.38 500.425) scale(0.872 1)">4</text>
<text x="0" y="0" font-size="12.5" fill="#1e9ad6" text-anchor="middle" dominant-baseline="central" transform="translate(110.62 500.425) scale(0.872 1)">0</text>
<text x="0" y="0" font-size="12.5" fill="#1e9ad6" text-anchor="middle" dominant-baseline="central" transform="translate(104.38 559.675) scale(0.872 1)">4</text>
<text x="0" y="0" font-size="12.5" fill="#1e9ad6" text-anchor="middle" dominant-baseline="central" transform="translate(110.62 559.675) scale(0.872 1)">8</text>
<text x="0" y="0" font-size="12.5" fill="#1e9ad6" text-anchor="middle" dominant-baseline="central" transform="translate(104.38 618.925) scale(0.872 1)">5</text>
<text x="0" y="0" font-size="12.5" fill="#1e9ad6" text-anchor="middle" dominant-baseline="central" transform="translate(110.62 618.925) scale(0.872 1)">0</text>
<text x="0" y="0" font-size="12.5" fill="#1e9ad6" text-anchor="middle" dominant-baseline="central" transform="translate(104.38 678.175) scale(0.872 1)">6</text>
<text x="0" y="0" font-size="12.5" fill="#1e9ad6" text-anchor="middle" dominant-baseline="central" transform="translate(110.62 678.175) scale(0.872 1)">0</text>
<text x="0" y="0" font-size="12.5" fill="#1e9ad6" text-anchor="middle" dominant-baseline="central" transform="translate(172.25 480.875) scale(0.872 1)">0</text>
<text x="0" y="0" font-size="12.5" fill="#1e9ad6" text-anchor="middle" dominant-baseline="central" transform="translate(178.50 480.875) scale(0.872 1)">4</text>
<text x="0" y="0" font-size="12.5" fill="#1e9ad6" text-anchor="middle" dominant-baseline="central" transform="translate(184.75 480.875) scale(0.872 1)">0</text>
<text x="0" y="0" font-size="12.5" fill="#2e2e2e" text-anchor="middle" dominant-baseline="central" transform="translate(222.50 480.875) scale(0.872 1)">2</text>
<text x="0" y="0" font-size="12.5" fill="#2e2e2e" text-anchor="middle" dominant-baseline="central" transform="translate(228.75 480.875) scale(0.872 1)">5</text>
<text x="0" y="0" font-size="12.5" fill="#2e2e2e" text-anchor="middle" dominant-baseline="central" transform="translate(241.25 480.875) scale(0.872 1)">4</text>
<text x="0" y="0" font-size="12.5" fill="#2e2e2e" text-anchor="middle" dominant-baseline="central" transform="translate(247.50 480.875) scale(0.872 1)">6</text>
<text x="232.47" y="480.875" font-size="12.5" fill="#2e2e2e" dominant-baseline="central" >.</text>
<text x="0" y="0" font-size="12.5" fill="#2e2e2e" text-anchor="middle" dominant-baseline="central" transform="translate(264.00 480.875) scale(0.872 1)">2</text>
<text x="0" y="0" font-size="12.5" fill="#2e2e2e" text-anchor="middle" dominant-baseline="central" transform="translate(270.25 480.875) scale(0.872 1)">4</text>
<text x="0" y="0" font-size="12.5" fill="#2e2e2e" text-anchor="middle" dominant-baseline="central" transform="translate(282.75 480.875) scale(0.872 1)">9</text>
<text x="0" y="0" font-size="12.5" fill="#2e2e2e" text-anchor="middle" dominant-baseline="central" transform="translate(289.00 480.875) scale(0.872 1)">6</text>
<text x="273.98" y="480.875" font-size="12.5" fill="#2e2e2e" dominant-baseline="central" >.</text>
<text x="0" y="0" font-size="12.5" fill="#2e2e2e" text-anchor="middle" dominant-baseline="central" transform="translate(313.38 480.875) scale(0.872 1)">3</text>
<text x="0" y="0" font-size="12.5" fill="#2e2e2e" text-anchor="middle" dominant-baseline="central" transform="translate(319.62 480.875) scale(0.872 1)">0</text>
<text x="0" y="0" font-size="12.5" fill="#2e2e2e" text-anchor="middle" dominant-baseline="central" transform="translate(352.38 480.875) scale(0.872 1)">2</text>
<text x="0" y="0" font-size="12.5" fill="#2e2e2e" text-anchor="middle" dominant-baseline="central" transform="translate(358.62 480.875) scale(0.872 1)">0</text>
<text x="0" y="0" font-size="12.5" fill="#2e2e2e" text-anchor="middle" dominant-baseline="central" transform="translate(390.88 480.875) scale(0.872 1)">1</text>
<text x="0" y="0" font-size="12.5" fill="#2e2e2e" text-anchor="middle" dominant-baseline="central" transform="translate(397.12 480.875) scale(0.872 1)">1</text>
<text x="0" y="0" font-size="12.5" fill="#2e2e2e" text-anchor="middle" dominant-baseline="central" transform="translate(432.50 480.875) scale(0.872 1)">5</text>
<text x="0" y="0" font-size="12.5" fill="#2e2e2e" text-anchor="middle" dominant-baseline="central" transform="translate(471.50 480.875) scale(0.872 1)">9</text>
<text x="0" y="0" font-size="12.5" fill="#2e2e2e" text-anchor="middle" dominant-baseline="central" transform="translate(503.75 480.875) scale(0.872 1)">2</text>
<text x="0" y="0" font-size="12.5" fill="#2e2e2e" text-anchor="middle" dominant-baseline="central" transform="translate(516.25 480.875) scale(0.872 1)">5</text>
<text x="507.48" y="480.875" font-size="12.5" fill="#2e2e2e" dominant-baseline="central" >.</text>
<text x="0" y="0" font-size="12.5" fill="#2e2e2e" text-anchor="middle" dominant-baseline="central" transform="translate(542.25 480.875) scale(0.872 1)">1</text>
<text x="0" y="0" font-size="12.5" fill="#2e2e2e" text-anchor="middle" dominant-baseline="central" transform="translate(554.75 480.875) scale(0.872 1)">5</text>
<text x="545.98" y="480.875" font-size="12.5" fill="#2e2e2e" dominant-baseline="central" >.</text>
<text x="0" y="0" font-size="12.5" fill="#2e2e2e" text-anchor="middle" dominant-baseline="central" transform="translate(580.12 480.875) scale(0.872 1)">6</text>
<text x="0" y="0" font-size="12.5" fill="#2e2e2e" text-anchor="middle" dominant-baseline="central" transform="translate(586.38 480.875) scale(0.872 1)">9</text>
<text x="0" y="0" font-size="12.5" fill="#2e2e2e" text-anchor="middle" dominant-baseline="central" transform="translate(592.62 480.875) scale(0.872 1)">5</text>
<text x="0" y="0" font-size="12.5" fill="#2e2e2e" text-anchor="middle" dominant-baseline="central" transform="translate(598.88 480.875) scale(0.794 1)">Z</text>
<text x="0" y="0" font-size="12.5" fill="#2e2e2e" text-anchor="middle" dominant-baseline="central" transform="translate(605.12 480.875) scale(0.794 1)">Z</text>
<text x="0" y="0" font-size="12.5" fill="#2e2e2e" text-anchor="middle" dominant-baseline="central" transform="translate(623.88 480.875) scale(0.872 1)">1</text>
<text x="609.03" y="480.875" font-size="12.5" fill="#2e2e2e" dominant-baseline="central" ><tspan font-size="18.8">×</tspan></text>
<text x="0" y="0" font-size="12.5" fill="#2e2e2e" text-anchor="middle" dominant-baseline="central" transform="translate(655.50 480.875) scale(0.872 1)">5</text>
<text x="0" y="0" font-size="12.5" fill="#2e2e2e" text-anchor="middle" dominant-baseline="central" transform="translate(690.88 480.875) scale(0.872 1)">1</text>
<text x="0" y="0" font-size="12.5" fill="#2e2e2e" text-anchor="middle" dominant-baseline="central" transform="translate(697.12 480.875) scale(0.872 1)">3</text>
<text x="0" y="0" font-size="12.5" fill="#2e2e2e" text-anchor="middle" dominant-baseline="central" transform="translate(732.00 480.875) scale(0.872 1)">4</text>
<text x="0" y="0" font-size="11.5" fill="#2e2e2e" text-anchor="middle" dominant-baseline="central" transform="translate(756.68 480.875) scale(0.620 1)">G</text>
<text x="0" y="0" font-size="11.5" fill="#2e2e2e" text-anchor="middle" dominant-baseline="central" transform="translate(762.40 480.875) scale(0.723 1)">B</text>
<text x="0" y="0" font-size="11.5" fill="#2e2e2e" text-anchor="middle" dominant-baseline="central" transform="translate(773.84 480.875) scale(0.790 1)">T</text>
<text x="0" y="0" font-size="11.5" fill="#2e2e2e" text-anchor="middle" dominant-baseline="central" transform="translate(779.56 480.875) scale(0.868 1)">8</text>
<text x="0" y="0" font-size="11.5" fill="#2e2e2e" text-anchor="middle" dominant-baseline="central" transform="translate(785.28 480.875) scale(0.868 1)">9</text>
<text x="0" y="0" font-size="11.5" fill="#2e2e2e" text-anchor="middle" dominant-baseline="central" transform="translate(791.00 480.875) scale(0.868 1)">5</text>
<text x="0" y="0" font-size="11.5" fill="#2e2e2e" text-anchor="middle" dominant-baseline="central" transform="translate(802.44 480.875) scale(0.868 1)">2</text>
<text x="0" y="0" font-size="11.5" fill="#2e2e2e" text-anchor="middle" dominant-baseline="central" transform="translate(813.88 480.875) scale(0.868 1)">d</text>
<text x="0" y="0" font-size="11.5" fill="#2e2e2e" text-anchor="middle" dominant-baseline="central" transform="translate(819.60 480.875) scale(0.868 1)">1</text>
<text x="0" y="0" font-size="11.5" fill="#2e2e2e" text-anchor="middle" dominant-baseline="central" transform="translate(825.32 480.875) scale(0.868 1)">4</text>
<text x="766.52 794.46 806.56" y="480.875" font-size="11.5" fill="#2e2e2e" dominant-baseline="central" >/. </text>
<text x="0" y="0" font-size="12.5" fill="#2e2e2e" text-anchor="middle" dominant-baseline="central" transform="translate(847.88 480.875) scale(0.872 1)">1</text>
<text x="0" y="0" font-size="12.5" fill="#2e2e2e" text-anchor="middle" dominant-baseline="central" transform="translate(854.12 480.875) scale(0.872 1)">4</text>
<text x="0" y="0" font-size="12.5" fill="#2e2e2e" text-anchor="middle" dominant-baseline="central" transform="translate(890.50 480.875) scale(0.872 1)">1</text>
<text x="0" y="0" font-size="12.5" fill="#1e9ad6" text-anchor="middle" dominant-baseline="central" transform="translate(172.25 500.625) scale(0.872 1)">0</text>
<text x="0" y="0" font-size="12.5" fill="#1e9ad6" text-anchor="middle" dominant-baseline="central" transform="translate(178.50 500.625) scale(0.872 1)">6</text>
<text x="0" y="0" font-size="12.5" fill="#1e9ad6" text-anchor="middle" dominant-baseline="central" transform="translate(184.75 500.625) scale(0.872 1)">0</text>
<text x="0" y="0" font-size="12.5" fill="#2e2e2e" text-anchor="middle" dominant-baseline="central" transform="translate(222.50 500.625) scale(0.872 1)">2</text>
<text x="0" y="0" font-size="12.5" fill="#2e2e2e" text-anchor="middle" dominant-baseline="central" transform="translate(228.75 500.625) scale(0.872 1)">5</text>
<text x="0" y="0" font-size="12.5" fill="#2e2e2e" text-anchor="middle" dominant-baseline="central" transform="translate(241.25 500.625) scale(0.872 1)">4</text>
<text x="0" y="0" font-size="12.5" fill="#2e2e2e" text-anchor="middle" dominant-baseline="central" transform="translate(247.50 500.625) scale(0.872 1)">6</text>
<text x="232.47" y="500.625" font-size="12.5" fill="#2e2e2e" dominant-baseline="central" >.</text>
<text x="0" y="0" font-size="12.5" fill="#2e2e2e" text-anchor="middle" dominant-baseline="central" transform="translate(264.00 500.625) scale(0.872 1)">2</text>
<text x="0" y="0" font-size="12.5" fill="#2e2e2e" text-anchor="middle" dominant-baseline="central" transform="translate(270.25 500.625) scale(0.872 1)">4</text>
<text x="0" y="0" font-size="12.5" fill="#2e2e2e" text-anchor="middle" dominant-baseline="central" transform="translate(282.75 500.625) scale(0.872 1)">9</text>
<text x="0" y="0" font-size="12.5" fill="#2e2e2e" text-anchor="middle" dominant-baseline="central" transform="translate(289.00 500.625) scale(0.872 1)">6</text>
<text x="273.98" y="500.625" font-size="12.5" fill="#2e2e2e" dominant-baseline="central" >.</text>
<text x="0" y="0" font-size="12.5" fill="#2e2e2e" text-anchor="middle" dominant-baseline="central" transform="translate(313.38 500.625) scale(0.872 1)">3</text>
<text x="0" y="0" font-size="12.5" fill="#2e2e2e" text-anchor="middle" dominant-baseline="central" transform="translate(319.62 500.625) scale(0.872 1)">0</text>
<text x="0" y="0" font-size="12.5" fill="#2e2e2e" text-anchor="middle" dominant-baseline="central" transform="translate(352.38 500.625) scale(0.872 1)">2</text>
<text x="0" y="0" font-size="12.5" fill="#2e2e2e" text-anchor="middle" dominant-baseline="central" transform="translate(358.62 500.625) scale(0.872 1)">0</text>
<text x="0" y="0" font-size="12.5" fill="#2e2e2e" text-anchor="middle" dominant-baseline="central" transform="translate(390.88 500.625) scale(0.872 1)">1</text>
<text x="0" y="0" font-size="12.5" fill="#2e2e2e" text-anchor="middle" dominant-baseline="central" transform="translate(397.12 500.625) scale(0.872 1)">3</text>
<text x="0" y="0" font-size="12.5" fill="#2e2e2e" text-anchor="middle" dominant-baseline="central" transform="translate(432.50 500.625) scale(0.872 1)">7</text>
<text x="0" y="0" font-size="12.5" fill="#2e2e2e" text-anchor="middle" dominant-baseline="central" transform="translate(468.38 500.625) scale(0.872 1)">1</text>
<text x="0" y="0" font-size="12.5" fill="#2e2e2e" text-anchor="middle" dominant-baseline="central" transform="translate(474.62 500.625) scale(0.872 1)">1</text>
<text x="0" y="0" font-size="12.5" fill="#2e2e2e" text-anchor="middle" dominant-baseline="central" transform="translate(510.00 500.625) scale(0.872 1)">3</text>
<text x="0" y="0" font-size="12.5" fill="#2e2e2e" text-anchor="middle" dominant-baseline="central" transform="translate(542.25 500.625) scale(0.872 1)">1</text>
<text x="0" y="0" font-size="12.5" fill="#2e2e2e" text-anchor="middle" dominant-baseline="central" transform="translate(554.75 500.625) scale(0.872 1)">5</text>
<text x="545.98" y="500.625" font-size="12.5" fill="#2e2e2e" dominant-baseline="central" >.</text>
<text x="0" y="0" font-size="12.5" fill="#2e2e2e" text-anchor="middle" dominant-baseline="central" transform="translate(580.12 500.625) scale(0.872 1)">6</text>
<text x="0" y="0" font-size="12.5" fill="#2e2e2e" text-anchor="middle" dominant-baseline="central" transform="translate(586.38 500.625) scale(0.872 1)">9</text>
<text x="0" y="0" font-size="12.5" fill="#2e2e2e" text-anchor="middle" dominant-baseline="central" transform="translate(592.62 500.625) scale(0.872 1)">6</text>
<text x="0" y="0" font-size="12.5" fill="#2e2e2e" text-anchor="middle" dominant-baseline="central" transform="translate(598.88 500.625) scale(0.794 1)">Z</text>
<text x="0" y="0" font-size="12.5" fill="#2e2e2e" text-anchor="middle" dominant-baseline="central" transform="translate(605.12 500.625) scale(0.794 1)">Z</text>
<text x="0" y="0" font-size="12.5" fill="#2e2e2e" text-anchor="middle" dominant-baseline="central" transform="translate(623.88 500.625) scale(0.872 1)">1</text>
<text x="609.03" y="500.625" font-size="12.5" fill="#2e2e2e" dominant-baseline="central" ><tspan font-size="18.8">×</tspan></text>
<text x="0" y="0" font-size="12.5" fill="#2e2e2e" text-anchor="middle" dominant-baseline="central" transform="translate(655.50 500.625) scale(0.872 1)">6</text>
<text x="0" y="0" font-size="12.5" fill="#2e2e2e" text-anchor="middle" dominant-baseline="central" transform="translate(690.88 500.625) scale(0.872 1)">1</text>
<text x="0" y="0" font-size="12.5" fill="#2e2e2e" text-anchor="middle" dominant-baseline="central" transform="translate(697.12 500.625) scale(0.872 1)">5</text>
<text x="0" y="0" font-size="12.5" fill="#2e2e2e" text-anchor="middle" dominant-baseline="central" transform="translate(732.00 500.625) scale(0.872 1)">5</text>
<text x="0" y="0" font-size="12.5" fill="#2e2e2e" text-anchor="middle" dominant-baseline="central" transform="translate(775.38 500.625) scale(0.727 1)">K</text>
<text x="0" y="0" font-size="12.5" fill="#2e2e2e" text-anchor="middle" dominant-baseline="central" transform="translate(781.62 500.625) scale(0.672 1)">D</text>
<text x="0" y="0" font-size="12.5" fill="#2e2e2e" text-anchor="middle" dominant-baseline="central" transform="translate(787.88 500.625) scale(0.624 1)">Q</text>
<text x="0" y="0" font-size="12.5" fill="#2e2e2e" text-anchor="middle" dominant-baseline="central" transform="translate(800.38 500.625) scale(0.872 1)">1</text>
<text x="0" y="0" font-size="12.5" fill="#2e2e2e" text-anchor="middle" dominant-baseline="central" transform="translate(806.62 500.625) scale(0.872 1)">5</text>
<text x="792.04" y="500.625" font-size="12.5" fill="#2e2e2e" dominant-baseline="central" >-</text>
<text x="0" y="0" font-size="12.5" fill="#2e2e2e" text-anchor="middle" dominant-baseline="central" transform="translate(841.62 500.625) scale(0.872 1)">1</text>
<text x="0" y="0" font-size="12.5" fill="#2e2e2e" text-anchor="middle" dominant-baseline="central" transform="translate(847.88 500.625) scale(0.872 1)">5</text>
<text x="0" y="0" font-size="12.5" fill="#2e2e2e" text-anchor="middle" dominant-baseline="central" transform="translate(860.38 500.625) scale(0.872 1)">7</text>
<text x="851.60" y="500.625" font-size="12.5" fill="#2e2e2e" dominant-baseline="central" >.</text>
<text x="0" y="0" font-size="12.5" fill="#2e2e2e" text-anchor="middle" dominant-baseline="central" transform="translate(884.25 500.625) scale(0.872 1)">1</text>
<text x="0" y="0" font-size="12.5" fill="#2e2e2e" text-anchor="middle" dominant-baseline="central" transform="translate(896.75 500.625) scale(0.872 1)">1</text>
<text x="887.98" y="500.625" font-size="12.5" fill="#2e2e2e" dominant-baseline="central" >.</text>
<text x="0" y="0" font-size="12.5" fill="#1e9ad6" text-anchor="middle" dominant-baseline="central" transform="translate(172.25 520.375) scale(0.872 1)">1</text>
<text x="0" y="0" font-size="12.5" fill="#1e9ad6" text-anchor="middle" dominant-baseline="central" transform="translate(178.50 520.375) scale(0.872 1)">0</text>
<text x="0" y="0" font-size="12.5" fill="#1e9ad6" text-anchor="middle" dominant-baseline="central" transform="translate(184.75 520.375) scale(0.872 1)">0</text>
<text x="0" y="0" font-size="12.5" fill="#2e2e2e" text-anchor="middle" dominant-baseline="central" transform="translate(222.50 520.375) scale(0.872 1)">2</text>
<text x="0" y="0" font-size="12.5" fill="#2e2e2e" text-anchor="middle" dominant-baseline="central" transform="translate(228.75 520.375) scale(0.872 1)">5</text>
<text x="0" y="0" font-size="12.5" fill="#2e2e2e" text-anchor="middle" dominant-baseline="central" transform="translate(241.25 520.375) scale(0.872 1)">4</text>
<text x="0" y="0" font-size="12.5" fill="#2e2e2e" text-anchor="middle" dominant-baseline="central" transform="translate(247.50 520.375) scale(0.872 1)">6</text>
<text x="232.47" y="520.375" font-size="12.5" fill="#2e2e2e" dominant-baseline="central" >.</text>
<text x="0" y="0" font-size="12.5" fill="#2e2e2e" text-anchor="middle" dominant-baseline="central" transform="translate(264.00 520.375) scale(0.872 1)">2</text>
<text x="0" y="0" font-size="12.5" fill="#2e2e2e" text-anchor="middle" dominant-baseline="central" transform="translate(270.25 520.375) scale(0.872 1)">4</text>
<text x="0" y="0" font-size="12.5" fill="#2e2e2e" text-anchor="middle" dominant-baseline="central" transform="translate(282.75 520.375) scale(0.872 1)">9</text>
<text x="0" y="0" font-size="12.5" fill="#2e2e2e" text-anchor="middle" dominant-baseline="central" transform="translate(289.00 520.375) scale(0.872 1)">6</text>
<text x="273.98" y="520.375" font-size="12.5" fill="#2e2e2e" dominant-baseline="central" >.</text>
<text x="0" y="0" font-size="12.5" fill="#2e2e2e" text-anchor="middle" dominant-baseline="central" transform="translate(313.38 520.375) scale(0.872 1)">3</text>
<text x="0" y="0" font-size="12.5" fill="#2e2e2e" text-anchor="middle" dominant-baseline="central" transform="translate(319.62 520.375) scale(0.872 1)">0</text>
<text x="0" y="0" font-size="12.5" fill="#2e2e2e" text-anchor="middle" dominant-baseline="central" transform="translate(352.38 520.375) scale(0.872 1)">2</text>
<text x="0" y="0" font-size="12.5" fill="#2e2e2e" text-anchor="middle" dominant-baseline="central" transform="translate(358.62 520.375) scale(0.872 1)">0</text>
<text x="0" y="0" font-size="12.5" fill="#2e2e2e" text-anchor="middle" dominant-baseline="central" transform="translate(390.88 520.375) scale(0.872 1)">1</text>
<text x="0" y="0" font-size="12.5" fill="#2e2e2e" text-anchor="middle" dominant-baseline="central" transform="translate(397.12 520.375) scale(0.872 1)">3</text>
<text x="0" y="0" font-size="12.5" fill="#2e2e2e" text-anchor="middle" dominant-baseline="central" transform="translate(429.38 520.375) scale(0.872 1)">1</text>
<text x="0" y="0" font-size="12.5" fill="#2e2e2e" text-anchor="middle" dominant-baseline="central" transform="translate(435.62 520.375) scale(0.872 1)">1</text>
<text x="0" y="0" font-size="12.5" fill="#2e2e2e" text-anchor="middle" dominant-baseline="central" transform="translate(468.38 520.375) scale(0.872 1)">1</text>
<text x="0" y="0" font-size="12.5" fill="#2e2e2e" text-anchor="middle" dominant-baseline="central" transform="translate(474.62 520.375) scale(0.872 1)">5</text>
<text x="0" y="0" font-size="12.5" fill="#2e2e2e" text-anchor="middle" dominant-baseline="central" transform="translate(510.00 520.375) scale(0.872 1)">5</text>
<text x="0" y="0" font-size="12.5" fill="#2e2e2e" text-anchor="middle" dominant-baseline="central" transform="translate(542.25 520.375) scale(0.872 1)">1</text>
<text x="0" y="0" font-size="12.5" fill="#2e2e2e" text-anchor="middle" dominant-baseline="central" transform="translate(554.75 520.375) scale(0.872 1)">5</text>
<text x="545.98" y="520.375" font-size="12.5" fill="#2e2e2e" dominant-baseline="central" >.</text>
<text x="0" y="0" font-size="12.5" fill="#2e2e2e" text-anchor="middle" dominant-baseline="central" transform="translate(580.12 520.375) scale(0.872 1)">6</text>
<text x="0" y="0" font-size="12.5" fill="#2e2e2e" text-anchor="middle" dominant-baseline="central" transform="translate(586.38 520.375) scale(0.872 1)">9</text>
<text x="0" y="0" font-size="12.5" fill="#2e2e2e" text-anchor="middle" dominant-baseline="central" transform="translate(592.62 520.375) scale(0.872 1)">6</text>
<text x="0" y="0" font-size="12.5" fill="#2e2e2e" text-anchor="middle" dominant-baseline="central" transform="translate(598.88 520.375) scale(0.794 1)">Z</text>
<text x="0" y="0" font-size="12.5" fill="#2e2e2e" text-anchor="middle" dominant-baseline="central" transform="translate(605.12 520.375) scale(0.794 1)">Z</text>
<text x="0" y="0" font-size="12.5" fill="#2e2e2e" text-anchor="middle" dominant-baseline="central" transform="translate(623.88 520.375) scale(0.872 1)">1</text>
<text x="609.03" y="520.375" font-size="12.5" fill="#2e2e2e" dominant-baseline="central" ><tspan font-size="18.8">×</tspan></text>
<text x="0" y="0" font-size="12.5" fill="#2e2e2e" text-anchor="middle" dominant-baseline="central" transform="translate(655.50 520.375) scale(0.872 1)">6</text>
<text x="0" y="0" font-size="12.5" fill="#2e2e2e" text-anchor="middle" dominant-baseline="central" transform="translate(690.88 520.375) scale(0.872 1)">1</text>
<text x="0" y="0" font-size="12.5" fill="#2e2e2e" text-anchor="middle" dominant-baseline="central" transform="translate(697.12 520.375) scale(0.872 1)">5</text>
<text x="0" y="0" font-size="12.5" fill="#2e2e2e" text-anchor="middle" dominant-baseline="central" transform="translate(732.00 520.375) scale(0.872 1)">5</text>
<text x="0" y="0" font-size="12.5" fill="#2e2e2e" text-anchor="middle" dominant-baseline="central" transform="translate(775.38 520.375) scale(0.727 1)">K</text>
<text x="0" y="0" font-size="12.5" fill="#2e2e2e" text-anchor="middle" dominant-baseline="central" transform="translate(781.62 520.375) scale(0.672 1)">D</text>
<text x="0" y="0" font-size="12.5" fill="#2e2e2e" text-anchor="middle" dominant-baseline="central" transform="translate(787.88 520.375) scale(0.624 1)">Q</text>
<text x="0" y="0" font-size="12.5" fill="#2e2e2e" text-anchor="middle" dominant-baseline="central" transform="translate(800.38 520.375) scale(0.872 1)">1</text>
<text x="0" y="0" font-size="12.5" fill="#2e2e2e" text-anchor="middle" dominant-baseline="central" transform="translate(806.62 520.375) scale(0.872 1)">5</text>
<text x="792.04" y="520.375" font-size="12.5" fill="#2e2e2e" dominant-baseline="central" >-</text>
<text x="0" y="0" font-size="12.5" fill="#2e2e2e" text-anchor="middle" dominant-baseline="central" transform="translate(841.62 520.375) scale(0.872 1)">1</text>
<text x="0" y="0" font-size="12.5" fill="#2e2e2e" text-anchor="middle" dominant-baseline="central" transform="translate(847.88 520.375) scale(0.872 1)">5</text>
<text x="0" y="0" font-size="12.5" fill="#2e2e2e" text-anchor="middle" dominant-baseline="central" transform="translate(860.38 520.375) scale(0.872 1)">7</text>
<text x="851.60" y="520.375" font-size="12.5" fill="#2e2e2e" dominant-baseline="central" >.</text>
<text x="0" y="0" font-size="12.5" fill="#2e2e2e" text-anchor="middle" dominant-baseline="central" transform="translate(884.25 520.375) scale(0.872 1)">1</text>
<text x="0" y="0" font-size="12.5" fill="#2e2e2e" text-anchor="middle" dominant-baseline="central" transform="translate(896.75 520.375) scale(0.872 1)">1</text>
<text x="887.98" y="520.375" font-size="12.5" fill="#2e2e2e" dominant-baseline="central" >.</text>
<text x="0" y="0" font-size="12.5" fill="#1e9ad6" text-anchor="middle" dominant-baseline="central" transform="translate(172.25 540.125) scale(0.872 1)">0</text>
<text x="0" y="0" font-size="12.5" fill="#1e9ad6" text-anchor="middle" dominant-baseline="central" transform="translate(178.50 540.125) scale(0.872 1)">4</text>
<text x="0" y="0" font-size="12.5" fill="#1e9ad6" text-anchor="middle" dominant-baseline="central" transform="translate(184.75 540.125) scale(0.872 1)">0</text>
<text x="0" y="0" font-size="12.5" fill="#2e2e2e" text-anchor="middle" dominant-baseline="central" transform="translate(222.50 540.125) scale(0.872 1)">3</text>
<text x="0" y="0" font-size="12.5" fill="#2e2e2e" text-anchor="middle" dominant-baseline="central" transform="translate(228.75 540.125) scale(0.872 1)">0</text>
<text x="0" y="0" font-size="12.5" fill="#2e2e2e" text-anchor="middle" dominant-baseline="central" transform="translate(241.25 540.125) scale(0.872 1)">5</text>
<text x="0" y="0" font-size="12.5" fill="#2e2e2e" text-anchor="middle" dominant-baseline="central" transform="translate(247.50 540.125) scale(0.872 1)">6</text>
<text x="232.47" y="540.125" font-size="12.5" fill="#2e2e2e" dominant-baseline="central" >.</text>
<text x="0" y="0" font-size="12.5" fill="#2e2e2e" text-anchor="middle" dominant-baseline="central" transform="translate(264.00 540.125) scale(0.872 1)">3</text>
<text x="0" y="0" font-size="12.5" fill="#2e2e2e" text-anchor="middle" dominant-baseline="central" transform="translate(270.25 540.125) scale(0.872 1)">0</text>
<text x="0" y="0" font-size="12.5" fill="#2e2e2e" text-anchor="middle" dominant-baseline="central" transform="translate(282.75 540.125) scale(0.872 1)">0</text>
<text x="0" y="0" font-size="12.5" fill="#2e2e2e" text-anchor="middle" dominant-baseline="central" transform="translate(289.00 540.125) scale(0.872 1)">5</text>
<text x="273.98" y="540.125" font-size="12.5" fill="#2e2e2e" dominant-baseline="central" >.</text>
<text x="0" y="0" font-size="12.5" fill="#2e2e2e" text-anchor="middle" dominant-baseline="central" transform="translate(313.38 540.125) scale(0.872 1)">3</text>
<text x="0" y="0" font-size="12.5" fill="#2e2e2e" text-anchor="middle" dominant-baseline="central" transform="translate(319.62 540.125) scale(0.872 1)">5</text>
<text x="0" y="0" font-size="12.5" fill="#2e2e2e" text-anchor="middle" dominant-baseline="central" transform="translate(352.38 540.125) scale(0.872 1)">2</text>
<text x="0" y="0" font-size="12.5" fill="#2e2e2e" text-anchor="middle" dominant-baseline="central" transform="translate(358.62 540.125) scale(0.872 1)">5</text>
<text x="0" y="0" font-size="12.5" fill="#2e2e2e" text-anchor="middle" dominant-baseline="central" transform="translate(390.88 540.125) scale(0.872 1)">1</text>
<text x="0" y="0" font-size="12.5" fill="#2e2e2e" text-anchor="middle" dominant-baseline="central" transform="translate(397.12 540.125) scale(0.872 1)">3</text>
<text x="0" y="0" font-size="12.5" fill="#2e2e2e" text-anchor="middle" dominant-baseline="central" transform="translate(432.50 540.125) scale(0.872 1)">5</text>
<text x="0" y="0" font-size="12.5" fill="#2e2e2e" text-anchor="middle" dominant-baseline="central" transform="translate(471.50 540.125) scale(0.872 1)">9</text>
<text x="0" y="0" font-size="12.5" fill="#2e2e2e" text-anchor="middle" dominant-baseline="central" transform="translate(510.00 540.125) scale(0.872 1)">2</text>
<text x="0" y="0" font-size="12.5" fill="#2e2e2e" text-anchor="middle" dominant-baseline="central" transform="translate(542.25 540.125) scale(0.872 1)">1</text>
<text x="0" y="0" font-size="12.5" fill="#2e2e2e" text-anchor="middle" dominant-baseline="central" transform="translate(554.75 540.125) scale(0.872 1)">5</text>
<text x="545.98" y="540.125" font-size="12.5" fill="#2e2e2e" dominant-baseline="central" >.</text>
<text x="0" y="0" font-size="12.5" fill="#2e2e2e" text-anchor="middle" dominant-baseline="central" transform="translate(580.12 540.125) scale(0.872 1)">6</text>
<text x="0" y="0" font-size="12.5" fill="#2e2e2e" text-anchor="middle" dominant-baseline="central" transform="translate(586.38 540.125) scale(0.872 1)">9</text>
<text x="0" y="0" font-size="12.5" fill="#2e2e2e" text-anchor="middle" dominant-baseline="central" transform="translate(592.62 540.125) scale(0.872 1)">6</text>
<text x="0" y="0" font-size="12.5" fill="#2e2e2e" text-anchor="middle" dominant-baseline="central" transform="translate(598.88 540.125) scale(0.794 1)">Z</text>
<text x="0" y="0" font-size="12.5" fill="#2e2e2e" text-anchor="middle" dominant-baseline="central" transform="translate(605.12 540.125) scale(0.794 1)">Z</text>
<text x="0" y="0" font-size="12.5" fill="#2e2e2e" text-anchor="middle" dominant-baseline="central" transform="translate(623.88 540.125) scale(0.872 1)">1</text>
<text x="609.03" y="540.125" font-size="12.5" fill="#2e2e2e" dominant-baseline="central" ><tspan font-size="18.8">×</tspan></text>
<text x="0" y="0" font-size="12.5" fill="#2e2e2e" text-anchor="middle" dominant-baseline="central" transform="translate(655.50 540.125) scale(0.872 1)">6</text>
<text x="0" y="0" font-size="12.5" fill="#2e2e2e" text-anchor="middle" dominant-baseline="central" transform="translate(690.88 540.125) scale(0.872 1)">1</text>
<text x="0" y="0" font-size="12.5" fill="#2e2e2e" text-anchor="middle" dominant-baseline="central" transform="translate(697.12 540.125) scale(0.872 1)">5</text>
<text x="0" y="0" font-size="12.5" fill="#2e2e2e" text-anchor="middle" dominant-baseline="central" transform="translate(732.00 540.125) scale(0.872 1)">5</text>
<text x="0" y="0" font-size="12.5" fill="#2e2e2e" text-anchor="middle" dominant-baseline="central" transform="translate(775.38 540.125) scale(0.727 1)">K</text>
<text x="0" y="0" font-size="12.5" fill="#2e2e2e" text-anchor="middle" dominant-baseline="central" transform="translate(781.62 540.125) scale(0.672 1)">D</text>
<text x="0" y="0" font-size="12.5" fill="#2e2e2e" text-anchor="middle" dominant-baseline="central" transform="translate(787.88 540.125) scale(0.624 1)">Q</text>
<text x="0" y="0" font-size="12.5" fill="#2e2e2e" text-anchor="middle" dominant-baseline="central" transform="translate(800.38 540.125) scale(0.872 1)">1</text>
<text x="0" y="0" font-size="12.5" fill="#2e2e2e" text-anchor="middle" dominant-baseline="central" transform="translate(806.62 540.125) scale(0.872 1)">5</text>
<text x="792.04" y="540.125" font-size="12.5" fill="#2e2e2e" dominant-baseline="central" >-</text>
<text x="0" y="0" font-size="12.5" fill="#2e2e2e" text-anchor="middle" dominant-baseline="central" transform="translate(841.62 540.125) scale(0.872 1)">1</text>
<text x="0" y="0" font-size="12.5" fill="#2e2e2e" text-anchor="middle" dominant-baseline="central" transform="translate(847.88 540.125) scale(0.872 1)">5</text>
<text x="0" y="0" font-size="12.5" fill="#2e2e2e" text-anchor="middle" dominant-baseline="central" transform="translate(860.38 540.125) scale(0.872 1)">7</text>
<text x="851.60" y="540.125" font-size="12.5" fill="#2e2e2e" dominant-baseline="central" >.</text>
<text x="0" y="0" font-size="12.5" fill="#2e2e2e" text-anchor="middle" dominant-baseline="central" transform="translate(884.25 540.125) scale(0.872 1)">1</text>
<text x="0" y="0" font-size="12.5" fill="#2e2e2e" text-anchor="middle" dominant-baseline="central" transform="translate(896.75 540.125) scale(0.872 1)">1</text>
<text x="887.98" y="540.125" font-size="12.5" fill="#2e2e2e" dominant-baseline="central" >.</text>
<text x="0" y="0" font-size="12.5" fill="#1e9ad6" text-anchor="middle" dominant-baseline="central" transform="translate(172.25 559.875) scale(0.872 1)">0</text>
<text x="0" y="0" font-size="12.5" fill="#1e9ad6" text-anchor="middle" dominant-baseline="central" transform="translate(178.50 559.875) scale(0.872 1)">6</text>
<text x="0" y="0" font-size="12.5" fill="#1e9ad6" text-anchor="middle" dominant-baseline="central" transform="translate(184.75 559.875) scale(0.872 1)">0</text>
<text x="0" y="0" font-size="12.5" fill="#2e2e2e" text-anchor="middle" dominant-baseline="central" transform="translate(222.50 559.875) scale(0.872 1)">3</text>
<text x="0" y="0" font-size="12.5" fill="#2e2e2e" text-anchor="middle" dominant-baseline="central" transform="translate(228.75 559.875) scale(0.872 1)">0</text>
<text x="0" y="0" font-size="12.5" fill="#2e2e2e" text-anchor="middle" dominant-baseline="central" transform="translate(241.25 559.875) scale(0.872 1)">5</text>
<text x="0" y="0" font-size="12.5" fill="#2e2e2e" text-anchor="middle" dominant-baseline="central" transform="translate(247.50 559.875) scale(0.872 1)">6</text>
<text x="232.47" y="559.875" font-size="12.5" fill="#2e2e2e" dominant-baseline="central" >.</text>
<text x="0" y="0" font-size="12.5" fill="#2e2e2e" text-anchor="middle" dominant-baseline="central" transform="translate(264.00 559.875) scale(0.872 1)">3</text>
<text x="0" y="0" font-size="12.5" fill="#2e2e2e" text-anchor="middle" dominant-baseline="central" transform="translate(270.25 559.875) scale(0.872 1)">0</text>
<text x="0" y="0" font-size="12.5" fill="#2e2e2e" text-anchor="middle" dominant-baseline="central" transform="translate(282.75 559.875) scale(0.872 1)">0</text>
<text x="0" y="0" font-size="12.5" fill="#2e2e2e" text-anchor="middle" dominant-baseline="central" transform="translate(289.00 559.875) scale(0.872 1)">5</text>
<text x="273.98" y="559.875" font-size="12.5" fill="#2e2e2e" dominant-baseline="central" >.</text>
<text x="0" y="0" font-size="12.5" fill="#2e2e2e" text-anchor="middle" dominant-baseline="central" transform="translate(313.38 559.875) scale(0.872 1)">3</text>
<text x="0" y="0" font-size="12.5" fill="#2e2e2e" text-anchor="middle" dominant-baseline="central" transform="translate(319.62 559.875) scale(0.872 1)">5</text>
<text x="0" y="0" font-size="12.5" fill="#2e2e2e" text-anchor="middle" dominant-baseline="central" transform="translate(352.38 559.875) scale(0.872 1)">2</text>
<text x="0" y="0" font-size="12.5" fill="#2e2e2e" text-anchor="middle" dominant-baseline="central" transform="translate(358.62 559.875) scale(0.872 1)">5</text>
<text x="0" y="0" font-size="12.5" fill="#2e2e2e" text-anchor="middle" dominant-baseline="central" transform="translate(390.88 559.875) scale(0.872 1)">1</text>
<text x="0" y="0" font-size="12.5" fill="#2e2e2e" text-anchor="middle" dominant-baseline="central" transform="translate(397.12 559.875) scale(0.872 1)">3</text>
<text x="0" y="0" font-size="12.5" fill="#2e2e2e" text-anchor="middle" dominant-baseline="central" transform="translate(432.50 559.875) scale(0.872 1)">7</text>
<text x="0" y="0" font-size="12.5" fill="#2e2e2e" text-anchor="middle" dominant-baseline="central" transform="translate(468.38 559.875) scale(0.872 1)">1</text>
<text x="0" y="0" font-size="12.5" fill="#2e2e2e" text-anchor="middle" dominant-baseline="central" transform="translate(474.62 559.875) scale(0.872 1)">1</text>
<text x="0" y="0" font-size="12.5" fill="#2e2e2e" text-anchor="middle" dominant-baseline="central" transform="translate(510.00 559.875) scale(0.872 1)">3</text>
<text x="0" y="0" font-size="12.5" fill="#2e2e2e" text-anchor="middle" dominant-baseline="central" transform="translate(542.25 559.875) scale(0.872 1)">1</text>
<text x="0" y="0" font-size="12.5" fill="#2e2e2e" text-anchor="middle" dominant-baseline="central" transform="translate(554.75 559.875) scale(0.872 1)">5</text>
<text x="545.98" y="559.875" font-size="12.5" fill="#2e2e2e" dominant-baseline="central" >.</text>
<text x="0" y="0" font-size="12.5" fill="#2e2e2e" text-anchor="middle" dominant-baseline="central" transform="translate(580.12 559.875) scale(0.872 1)">6</text>
<text x="0" y="0" font-size="12.5" fill="#2e2e2e" text-anchor="middle" dominant-baseline="central" transform="translate(586.38 559.875) scale(0.872 1)">9</text>
<text x="0" y="0" font-size="12.5" fill="#2e2e2e" text-anchor="middle" dominant-baseline="central" transform="translate(592.62 559.875) scale(0.872 1)">6</text>
<text x="0" y="0" font-size="12.5" fill="#2e2e2e" text-anchor="middle" dominant-baseline="central" transform="translate(598.88 559.875) scale(0.794 1)">Z</text>
<text x="0" y="0" font-size="12.5" fill="#2e2e2e" text-anchor="middle" dominant-baseline="central" transform="translate(605.12 559.875) scale(0.794 1)">Z</text>
<text x="0" y="0" font-size="12.5" fill="#2e2e2e" text-anchor="middle" dominant-baseline="central" transform="translate(623.88 559.875) scale(0.872 1)">1</text>
<text x="609.03" y="559.875" font-size="12.5" fill="#2e2e2e" dominant-baseline="central" ><tspan font-size="18.8">×</tspan></text>
<text x="0" y="0" font-size="12.5" fill="#2e2e2e" text-anchor="middle" dominant-baseline="central" transform="translate(655.50 559.875) scale(0.872 1)">6</text>
<text x="0" y="0" font-size="12.5" fill="#2e2e2e" text-anchor="middle" dominant-baseline="central" transform="translate(690.88 559.875) scale(0.872 1)">1</text>
<text x="0" y="0" font-size="12.5" fill="#2e2e2e" text-anchor="middle" dominant-baseline="central" transform="translate(697.12 559.875) scale(0.872 1)">5</text>
<text x="0" y="0" font-size="12.5" fill="#2e2e2e" text-anchor="middle" dominant-baseline="central" transform="translate(732.00 559.875) scale(0.872 1)">5</text>
<text x="0" y="0" font-size="12.5" fill="#2e2e2e" text-anchor="middle" dominant-baseline="central" transform="translate(775.38 559.875) scale(0.727 1)">K</text>
<text x="0" y="0" font-size="12.5" fill="#2e2e2e" text-anchor="middle" dominant-baseline="central" transform="translate(781.62 559.875) scale(0.672 1)">D</text>
<text x="0" y="0" font-size="12.5" fill="#2e2e2e" text-anchor="middle" dominant-baseline="central" transform="translate(787.88 559.875) scale(0.624 1)">Q</text>
<text x="0" y="0" font-size="12.5" fill="#2e2e2e" text-anchor="middle" dominant-baseline="central" transform="translate(800.38 559.875) scale(0.872 1)">1</text>
<text x="0" y="0" font-size="12.5" fill="#2e2e2e" text-anchor="middle" dominant-baseline="central" transform="translate(806.62 559.875) scale(0.872 1)">5</text>
<text x="792.04" y="559.875" font-size="12.5" fill="#2e2e2e" dominant-baseline="central" >-</text>
<text x="0" y="0" font-size="12.5" fill="#2e2e2e" text-anchor="middle" dominant-baseline="central" transform="translate(841.62 559.875) scale(0.872 1)">1</text>
<text x="0" y="0" font-size="12.5" fill="#2e2e2e" text-anchor="middle" dominant-baseline="central" transform="translate(847.88 559.875) scale(0.872 1)">5</text>
<text x="0" y="0" font-size="12.5" fill="#2e2e2e" text-anchor="middle" dominant-baseline="central" transform="translate(860.38 559.875) scale(0.872 1)">7</text>
<text x="851.60" y="559.875" font-size="12.5" fill="#2e2e2e" dominant-baseline="central" >.</text>
<text x="0" y="0" font-size="12.5" fill="#2e2e2e" text-anchor="middle" dominant-baseline="central" transform="translate(884.25 559.875) scale(0.872 1)">1</text>
<text x="0" y="0" font-size="12.5" fill="#2e2e2e" text-anchor="middle" dominant-baseline="central" transform="translate(896.75 559.875) scale(0.872 1)">1</text>
<text x="887.98" y="559.875" font-size="12.5" fill="#2e2e2e" dominant-baseline="central" >.</text>
<text x="0" y="0" font-size="12.5" fill="#1e9ad6" text-anchor="middle" dominant-baseline="central" transform="translate(172.25 579.625) scale(0.872 1)">1</text>
<text x="0" y="0" font-size="12.5" fill="#1e9ad6" text-anchor="middle" dominant-baseline="central" transform="translate(178.50 579.625) scale(0.872 1)">0</text>
<text x="0" y="0" font-size="12.5" fill="#1e9ad6" text-anchor="middle" dominant-baseline="central" transform="translate(184.75 579.625) scale(0.872 1)">0</text>
<text x="0" y="0" font-size="12.5" fill="#2e2e2e" text-anchor="middle" dominant-baseline="central" transform="translate(222.50 579.625) scale(0.872 1)">3</text>
<text x="0" y="0" font-size="12.5" fill="#2e2e2e" text-anchor="middle" dominant-baseline="central" transform="translate(228.75 579.625) scale(0.872 1)">0</text>
<text x="0" y="0" font-size="12.5" fill="#2e2e2e" text-anchor="middle" dominant-baseline="central" transform="translate(241.25 579.625) scale(0.872 1)">5</text>
<text x="0" y="0" font-size="12.5" fill="#2e2e2e" text-anchor="middle" dominant-baseline="central" transform="translate(247.50 579.625) scale(0.872 1)">6</text>
<text x="232.47" y="579.625" font-size="12.5" fill="#2e2e2e" dominant-baseline="central" >.</text>
<text x="0" y="0" font-size="12.5" fill="#2e2e2e" text-anchor="middle" dominant-baseline="central" transform="translate(264.00 579.625) scale(0.872 1)">3</text>
<text x="0" y="0" font-size="12.5" fill="#2e2e2e" text-anchor="middle" dominant-baseline="central" transform="translate(270.25 579.625) scale(0.872 1)">0</text>
<text x="0" y="0" font-size="12.5" fill="#2e2e2e" text-anchor="middle" dominant-baseline="central" transform="translate(282.75 579.625) scale(0.872 1)">0</text>
<text x="0" y="0" font-size="12.5" fill="#2e2e2e" text-anchor="middle" dominant-baseline="central" transform="translate(289.00 579.625) scale(0.872 1)">5</text>
<text x="273.98" y="579.625" font-size="12.5" fill="#2e2e2e" dominant-baseline="central" >.</text>
<text x="0" y="0" font-size="12.5" fill="#2e2e2e" text-anchor="middle" dominant-baseline="central" transform="translate(313.38 579.625) scale(0.872 1)">3</text>
<text x="0" y="0" font-size="12.5" fill="#2e2e2e" text-anchor="middle" dominant-baseline="central" transform="translate(319.62 579.625) scale(0.872 1)">5</text>
<text x="0" y="0" font-size="12.5" fill="#2e2e2e" text-anchor="middle" dominant-baseline="central" transform="translate(352.38 579.625) scale(0.872 1)">2</text>
<text x="0" y="0" font-size="12.5" fill="#2e2e2e" text-anchor="middle" dominant-baseline="central" transform="translate(358.62 579.625) scale(0.872 1)">5</text>
<text x="0" y="0" font-size="12.5" fill="#2e2e2e" text-anchor="middle" dominant-baseline="central" transform="translate(390.88 579.625) scale(0.872 1)">1</text>
<text x="0" y="0" font-size="12.5" fill="#2e2e2e" text-anchor="middle" dominant-baseline="central" transform="translate(397.12 579.625) scale(0.872 1)">3</text>
<text x="0" y="0" font-size="12.5" fill="#2e2e2e" text-anchor="middle" dominant-baseline="central" transform="translate(429.38 579.625) scale(0.872 1)">1</text>
<text x="0" y="0" font-size="12.5" fill="#2e2e2e" text-anchor="middle" dominant-baseline="central" transform="translate(435.62 579.625) scale(0.872 1)">1</text>
<text x="0" y="0" font-size="12.5" fill="#2e2e2e" text-anchor="middle" dominant-baseline="central" transform="translate(468.38 579.625) scale(0.872 1)">1</text>
<text x="0" y="0" font-size="12.5" fill="#2e2e2e" text-anchor="middle" dominant-baseline="central" transform="translate(474.62 579.625) scale(0.872 1)">5</text>
<text x="0" y="0" font-size="12.5" fill="#2e2e2e" text-anchor="middle" dominant-baseline="central" transform="translate(510.00 579.625) scale(0.872 1)">5</text>
<text x="0" y="0" font-size="12.5" fill="#2e2e2e" text-anchor="middle" dominant-baseline="central" transform="translate(542.25 579.625) scale(0.872 1)">1</text>
<text x="0" y="0" font-size="12.5" fill="#2e2e2e" text-anchor="middle" dominant-baseline="central" transform="translate(554.75 579.625) scale(0.872 1)">5</text>
<text x="545.98" y="579.625" font-size="12.5" fill="#2e2e2e" dominant-baseline="central" >.</text>
<text x="0" y="0" font-size="12.5" fill="#2e2e2e" text-anchor="middle" dominant-baseline="central" transform="translate(580.12 579.625) scale(0.872 1)">6</text>
<text x="0" y="0" font-size="12.5" fill="#2e2e2e" text-anchor="middle" dominant-baseline="central" transform="translate(586.38 579.625) scale(0.872 1)">9</text>
<text x="0" y="0" font-size="12.5" fill="#2e2e2e" text-anchor="middle" dominant-baseline="central" transform="translate(592.62 579.625) scale(0.872 1)">6</text>
<text x="0" y="0" font-size="12.5" fill="#2e2e2e" text-anchor="middle" dominant-baseline="central" transform="translate(598.88 579.625) scale(0.794 1)">Z</text>
<text x="0" y="0" font-size="12.5" fill="#2e2e2e" text-anchor="middle" dominant-baseline="central" transform="translate(605.12 579.625) scale(0.794 1)">Z</text>
<text x="0" y="0" font-size="12.5" fill="#2e2e2e" text-anchor="middle" dominant-baseline="central" transform="translate(623.88 579.625) scale(0.872 1)">1</text>
<text x="609.03" y="579.625" font-size="12.5" fill="#2e2e2e" dominant-baseline="central" ><tspan font-size="18.8">×</tspan></text>
<text x="0" y="0" font-size="12.5" fill="#2e2e2e" text-anchor="middle" dominant-baseline="central" transform="translate(655.50 579.625) scale(0.872 1)">6</text>
<text x="0" y="0" font-size="12.5" fill="#2e2e2e" text-anchor="middle" dominant-baseline="central" transform="translate(690.88 579.625) scale(0.872 1)">1</text>
<text x="0" y="0" font-size="12.5" fill="#2e2e2e" text-anchor="middle" dominant-baseline="central" transform="translate(697.12 579.625) scale(0.872 1)">5</text>
<text x="0" y="0" font-size="12.5" fill="#2e2e2e" text-anchor="middle" dominant-baseline="central" transform="translate(732.00 579.625) scale(0.872 1)">5</text>
<text x="0" y="0" font-size="12.5" fill="#2e2e2e" text-anchor="middle" dominant-baseline="central" transform="translate(775.38 579.625) scale(0.727 1)">K</text>
<text x="0" y="0" font-size="12.5" fill="#2e2e2e" text-anchor="middle" dominant-baseline="central" transform="translate(781.62 579.625) scale(0.672 1)">D</text>
<text x="0" y="0" font-size="12.5" fill="#2e2e2e" text-anchor="middle" dominant-baseline="central" transform="translate(787.88 579.625) scale(0.624 1)">Q</text>
<text x="0" y="0" font-size="12.5" fill="#2e2e2e" text-anchor="middle" dominant-baseline="central" transform="translate(800.38 579.625) scale(0.872 1)">1</text>
<text x="0" y="0" font-size="12.5" fill="#2e2e2e" text-anchor="middle" dominant-baseline="central" transform="translate(806.62 579.625) scale(0.872 1)">5</text>
<text x="792.04" y="579.625" font-size="12.5" fill="#2e2e2e" dominant-baseline="central" >-</text>
<text x="0" y="0" font-size="12.5" fill="#2e2e2e" text-anchor="middle" dominant-baseline="central" transform="translate(841.62 579.625) scale(0.872 1)">1</text>
<text x="0" y="0" font-size="12.5" fill="#2e2e2e" text-anchor="middle" dominant-baseline="central" transform="translate(847.88 579.625) scale(0.872 1)">5</text>
<text x="0" y="0" font-size="12.5" fill="#2e2e2e" text-anchor="middle" dominant-baseline="central" transform="translate(860.38 579.625) scale(0.872 1)">7</text>
<text x="851.60" y="579.625" font-size="12.5" fill="#2e2e2e" dominant-baseline="central" >.</text>
<text x="0" y="0" font-size="12.5" fill="#2e2e2e" text-anchor="middle" dominant-baseline="central" transform="translate(884.25 579.625) scale(0.872 1)">1</text>
<text x="0" y="0" font-size="12.5" fill="#2e2e2e" text-anchor="middle" dominant-baseline="central" transform="translate(896.75 579.625) scale(0.872 1)">1</text>
<text x="887.98" y="579.625" font-size="12.5" fill="#2e2e2e" dominant-baseline="central" >.</text>
<text x="0" y="0" font-size="12.5" fill="#1e9ad6" text-anchor="middle" dominant-baseline="central" transform="translate(172.25 599.375) scale(0.872 1)">0</text>
<text x="0" y="0" font-size="12.5" fill="#1e9ad6" text-anchor="middle" dominant-baseline="central" transform="translate(178.50 599.375) scale(0.872 1)">4</text>
<text x="0" y="0" font-size="12.5" fill="#1e9ad6" text-anchor="middle" dominant-baseline="central" transform="translate(184.75 599.375) scale(0.872 1)">0</text>
<text x="0" y="0" font-size="12.5" fill="#2e2e2e" text-anchor="middle" dominant-baseline="central" transform="translate(222.50 599.375) scale(0.872 1)">3</text>
<text x="0" y="0" font-size="12.5" fill="#2e2e2e" text-anchor="middle" dominant-baseline="central" transform="translate(228.75 599.375) scale(0.872 1)">1</text>
<text x="0" y="0" font-size="12.5" fill="#2e2e2e" text-anchor="middle" dominant-baseline="central" transform="translate(241.25 599.375) scale(0.872 1)">8</text>
<text x="0" y="0" font-size="12.5" fill="#2e2e2e" text-anchor="middle" dominant-baseline="central" transform="translate(247.50 599.375) scale(0.872 1)">3</text>
<text x="232.47" y="599.375" font-size="12.5" fill="#2e2e2e" dominant-baseline="central" >.</text>
<text x="0" y="0" font-size="12.5" fill="#2e2e2e" text-anchor="middle" dominant-baseline="central" transform="translate(264.00 599.375) scale(0.872 1)">3</text>
<text x="0" y="0" font-size="12.5" fill="#2e2e2e" text-anchor="middle" dominant-baseline="central" transform="translate(270.25 599.375) scale(0.872 1)">1</text>
<text x="0" y="0" font-size="12.5" fill="#2e2e2e" text-anchor="middle" dominant-baseline="central" transform="translate(282.75 599.375) scale(0.872 1)">3</text>
<text x="0" y="0" font-size="12.5" fill="#2e2e2e" text-anchor="middle" dominant-baseline="central" transform="translate(289.00 599.375) scale(0.872 1)">2</text>
<text x="273.98" y="599.375" font-size="12.5" fill="#2e2e2e" dominant-baseline="central" >.</text>
<text x="0" y="0" font-size="12.5" fill="#2e2e2e" text-anchor="middle" dominant-baseline="central" transform="translate(313.38 599.375) scale(0.872 1)">3</text>
<text x="0" y="0" font-size="12.5" fill="#2e2e2e" text-anchor="middle" dominant-baseline="central" transform="translate(319.62 599.375) scale(0.872 1)">5</text>
<text x="0" y="0" font-size="12.5" fill="#2e2e2e" text-anchor="middle" dominant-baseline="central" transform="translate(352.38 599.375) scale(0.872 1)">2</text>
<text x="0" y="0" font-size="12.5" fill="#2e2e2e" text-anchor="middle" dominant-baseline="central" transform="translate(358.62 599.375) scale(0.872 1)">5</text>
<text x="0" y="0" font-size="12.5" fill="#2e2e2e" text-anchor="middle" dominant-baseline="central" transform="translate(390.88 599.375) scale(0.872 1)">1</text>
<text x="0" y="0" font-size="12.5" fill="#2e2e2e" text-anchor="middle" dominant-baseline="central" transform="translate(397.12 599.375) scale(0.872 1)">3</text>
<text x="0" y="0" font-size="12.5" fill="#2e2e2e" text-anchor="middle" dominant-baseline="central" transform="translate(432.50 599.375) scale(0.872 1)">5</text>
<text x="0" y="0" font-size="12.5" fill="#2e2e2e" text-anchor="middle" dominant-baseline="central" transform="translate(471.50 599.375) scale(0.872 1)">9</text>
<text x="0" y="0" font-size="12.5" fill="#2e2e2e" text-anchor="middle" dominant-baseline="central" transform="translate(510.00 599.375) scale(0.872 1)">2</text>
<text x="0" y="0" font-size="12.5" fill="#2e2e2e" text-anchor="middle" dominant-baseline="central" transform="translate(542.25 599.375) scale(0.872 1)">1</text>
<text x="0" y="0" font-size="12.5" fill="#2e2e2e" text-anchor="middle" dominant-baseline="central" transform="translate(554.75 599.375) scale(0.872 1)">5</text>
<text x="545.98" y="599.375" font-size="12.5" fill="#2e2e2e" dominant-baseline="central" >.</text>
<text x="0" y="0" font-size="12.5" fill="#2e2e2e" text-anchor="middle" dominant-baseline="central" transform="translate(580.12 599.375) scale(0.872 1)">6</text>
<text x="0" y="0" font-size="12.5" fill="#2e2e2e" text-anchor="middle" dominant-baseline="central" transform="translate(586.38 599.375) scale(0.872 1)">9</text>
<text x="0" y="0" font-size="12.5" fill="#2e2e2e" text-anchor="middle" dominant-baseline="central" transform="translate(592.62 599.375) scale(0.872 1)">6</text>
<text x="0" y="0" font-size="12.5" fill="#2e2e2e" text-anchor="middle" dominant-baseline="central" transform="translate(598.88 599.375) scale(0.794 1)">Z</text>
<text x="0" y="0" font-size="12.5" fill="#2e2e2e" text-anchor="middle" dominant-baseline="central" transform="translate(605.12 599.375) scale(0.794 1)">Z</text>
<text x="0" y="0" font-size="12.5" fill="#2e2e2e" text-anchor="middle" dominant-baseline="central" transform="translate(623.88 599.375) scale(0.872 1)">1</text>
<text x="609.03" y="599.375" font-size="12.5" fill="#2e2e2e" dominant-baseline="central" ><tspan font-size="18.8">×</tspan></text>
<text x="0" y="0" font-size="12.5" fill="#2e2e2e" text-anchor="middle" dominant-baseline="central" transform="translate(655.50 599.375) scale(0.872 1)">6</text>
<text x="0" y="0" font-size="12.5" fill="#2e2e2e" text-anchor="middle" dominant-baseline="central" transform="translate(690.88 599.375) scale(0.872 1)">1</text>
<text x="0" y="0" font-size="12.5" fill="#2e2e2e" text-anchor="middle" dominant-baseline="central" transform="translate(697.12 599.375) scale(0.872 1)">5</text>
<text x="0" y="0" font-size="12.5" fill="#2e2e2e" text-anchor="middle" dominant-baseline="central" transform="translate(732.00 599.375) scale(0.872 1)">5</text>
<text x="0" y="0" font-size="12.5" fill="#2e2e2e" text-anchor="middle" dominant-baseline="central" transform="translate(775.38 599.375) scale(0.727 1)">K</text>
<text x="0" y="0" font-size="12.5" fill="#2e2e2e" text-anchor="middle" dominant-baseline="central" transform="translate(781.62 599.375) scale(0.672 1)">D</text>
<text x="0" y="0" font-size="12.5" fill="#2e2e2e" text-anchor="middle" dominant-baseline="central" transform="translate(787.88 599.375) scale(0.624 1)">Q</text>
<text x="0" y="0" font-size="12.5" fill="#2e2e2e" text-anchor="middle" dominant-baseline="central" transform="translate(800.38 599.375) scale(0.872 1)">1</text>
<text x="0" y="0" font-size="12.5" fill="#2e2e2e" text-anchor="middle" dominant-baseline="central" transform="translate(806.62 599.375) scale(0.872 1)">5</text>
<text x="792.04" y="599.375" font-size="12.5" fill="#2e2e2e" dominant-baseline="central" >-</text>
<text x="0" y="0" font-size="12.5" fill="#2e2e2e" text-anchor="middle" dominant-baseline="central" transform="translate(841.62 599.375) scale(0.872 1)">1</text>
<text x="0" y="0" font-size="12.5" fill="#2e2e2e" text-anchor="middle" dominant-baseline="central" transform="translate(847.88 599.375) scale(0.872 1)">5</text>
<text x="0" y="0" font-size="12.5" fill="#2e2e2e" text-anchor="middle" dominant-baseline="central" transform="translate(860.38 599.375) scale(0.872 1)">7</text>
<text x="851.60" y="599.375" font-size="12.5" fill="#2e2e2e" dominant-baseline="central" >.</text>
<text x="0" y="0" font-size="12.5" fill="#2e2e2e" text-anchor="middle" dominant-baseline="central" transform="translate(884.25 599.375) scale(0.872 1)">1</text>
<text x="0" y="0" font-size="12.5" fill="#2e2e2e" text-anchor="middle" dominant-baseline="central" transform="translate(896.75 599.375) scale(0.872 1)">1</text>
<text x="887.98" y="599.375" font-size="12.5" fill="#2e2e2e" dominant-baseline="central" >.</text>
<text x="0" y="0" font-size="12.5" fill="#1e9ad6" text-anchor="middle" dominant-baseline="central" transform="translate(172.25 619.125) scale(0.872 1)">0</text>
<text x="0" y="0" font-size="12.5" fill="#1e9ad6" text-anchor="middle" dominant-baseline="central" transform="translate(178.50 619.125) scale(0.872 1)">6</text>
<text x="0" y="0" font-size="12.5" fill="#1e9ad6" text-anchor="middle" dominant-baseline="central" transform="translate(184.75 619.125) scale(0.872 1)">0</text>
<text x="0" y="0" font-size="12.5" fill="#2e2e2e" text-anchor="middle" dominant-baseline="central" transform="translate(222.50 619.125) scale(0.872 1)">3</text>
<text x="0" y="0" font-size="12.5" fill="#2e2e2e" text-anchor="middle" dominant-baseline="central" transform="translate(228.75 619.125) scale(0.872 1)">1</text>
<text x="0" y="0" font-size="12.5" fill="#2e2e2e" text-anchor="middle" dominant-baseline="central" transform="translate(241.25 619.125) scale(0.872 1)">8</text>
<text x="0" y="0" font-size="12.5" fill="#2e2e2e" text-anchor="middle" dominant-baseline="central" transform="translate(247.50 619.125) scale(0.872 1)">3</text>
<text x="232.47" y="619.125" font-size="12.5" fill="#2e2e2e" dominant-baseline="central" >.</text>
<text x="0" y="0" font-size="12.5" fill="#2e2e2e" text-anchor="middle" dominant-baseline="central" transform="translate(264.00 619.125) scale(0.872 1)">3</text>
<text x="0" y="0" font-size="12.5" fill="#2e2e2e" text-anchor="middle" dominant-baseline="central" transform="translate(270.25 619.125) scale(0.872 1)">1</text>
<text x="0" y="0" font-size="12.5" fill="#2e2e2e" text-anchor="middle" dominant-baseline="central" transform="translate(282.75 619.125) scale(0.872 1)">3</text>
<text x="0" y="0" font-size="12.5" fill="#2e2e2e" text-anchor="middle" dominant-baseline="central" transform="translate(289.00 619.125) scale(0.872 1)">2</text>
<text x="273.98" y="619.125" font-size="12.5" fill="#2e2e2e" dominant-baseline="central" >.</text>
<text x="0" y="0" font-size="12.5" fill="#2e2e2e" text-anchor="middle" dominant-baseline="central" transform="translate(313.38 619.125) scale(0.872 1)">3</text>
<text x="0" y="0" font-size="12.5" fill="#2e2e2e" text-anchor="middle" dominant-baseline="central" transform="translate(319.62 619.125) scale(0.872 1)">5</text>
<text x="0" y="0" font-size="12.5" fill="#2e2e2e" text-anchor="middle" dominant-baseline="central" transform="translate(352.38 619.125) scale(0.872 1)">2</text>
<text x="0" y="0" font-size="12.5" fill="#2e2e2e" text-anchor="middle" dominant-baseline="central" transform="translate(358.62 619.125) scale(0.872 1)">5</text>
<text x="0" y="0" font-size="12.5" fill="#2e2e2e" text-anchor="middle" dominant-baseline="central" transform="translate(390.88 619.125) scale(0.872 1)">1</text>
<text x="0" y="0" font-size="12.5" fill="#2e2e2e" text-anchor="middle" dominant-baseline="central" transform="translate(397.12 619.125) scale(0.872 1)">7</text>
<text x="0" y="0" font-size="12.5" fill="#2e2e2e" text-anchor="middle" dominant-baseline="central" transform="translate(432.50 619.125) scale(0.872 1)">7</text>
<text x="0" y="0" font-size="12.5" fill="#2e2e2e" text-anchor="middle" dominant-baseline="central" transform="translate(468.38 619.125) scale(0.872 1)">1</text>
<text x="0" y="0" font-size="12.5" fill="#2e2e2e" text-anchor="middle" dominant-baseline="central" transform="translate(474.62 619.125) scale(0.872 1)">1</text>
<text x="0" y="0" font-size="12.5" fill="#2e2e2e" text-anchor="middle" dominant-baseline="central" transform="translate(503.75 619.125) scale(0.872 1)">2</text>
<text x="0" y="0" font-size="12.5" fill="#2e2e2e" text-anchor="middle" dominant-baseline="central" transform="translate(516.25 619.125) scale(0.872 1)">5</text>
<text x="507.48" y="619.125" font-size="12.5" fill="#2e2e2e" dominant-baseline="central" >.</text>
<text x="0" y="0" font-size="12.5" fill="#2e2e2e" text-anchor="middle" dominant-baseline="central" transform="translate(542.25 619.125) scale(0.872 1)">1</text>
<text x="0" y="0" font-size="12.5" fill="#2e2e2e" text-anchor="middle" dominant-baseline="central" transform="translate(554.75 619.125) scale(0.872 1)">5</text>
<text x="545.98" y="619.125" font-size="12.5" fill="#2e2e2e" dominant-baseline="central" >.</text>
<text x="0" y="0" font-size="12.5" fill="#2e2e2e" text-anchor="middle" dominant-baseline="central" transform="translate(580.12 619.125) scale(0.872 1)">6</text>
<text x="0" y="0" font-size="12.5" fill="#2e2e2e" text-anchor="middle" dominant-baseline="central" transform="translate(586.38 619.125) scale(0.872 1)">9</text>
<text x="0" y="0" font-size="12.5" fill="#2e2e2e" text-anchor="middle" dominant-baseline="central" transform="translate(592.62 619.125) scale(0.872 1)">8</text>
<text x="0" y="0" font-size="12.5" fill="#2e2e2e" text-anchor="middle" dominant-baseline="central" transform="translate(598.88 619.125) scale(0.794 1)">Z</text>
<text x="0" y="0" font-size="12.5" fill="#2e2e2e" text-anchor="middle" dominant-baseline="central" transform="translate(605.12 619.125) scale(0.794 1)">Z</text>
<text x="0" y="0" font-size="12.5" fill="#2e2e2e" text-anchor="middle" dominant-baseline="central" transform="translate(623.88 619.125) scale(0.872 1)">1</text>
<text x="609.03" y="619.125" font-size="12.5" fill="#2e2e2e" dominant-baseline="central" ><tspan font-size="18.8">×</tspan></text>
<text x="0" y="0" font-size="12.5" fill="#2e2e2e" text-anchor="middle" dominant-baseline="central" transform="translate(655.50 619.125) scale(0.872 1)">8</text>
<text x="0" y="0" font-size="12.5" fill="#2e2e2e" text-anchor="middle" dominant-baseline="central" transform="translate(690.88 619.125) scale(0.872 1)">1</text>
<text x="0" y="0" font-size="12.5" fill="#2e2e2e" text-anchor="middle" dominant-baseline="central" transform="translate(697.12 619.125) scale(0.872 1)">9</text>
<text x="0" y="0" font-size="12.5" fill="#2e2e2e" text-anchor="middle" dominant-baseline="central" transform="translate(732.00 619.125) scale(0.872 1)">6</text>
<text x="0" y="0" font-size="12.5" fill="#2e2e2e" text-anchor="middle" dominant-baseline="central" transform="translate(775.38 619.125) scale(0.727 1)">K</text>
<text x="0" y="0" font-size="12.5" fill="#2e2e2e" text-anchor="middle" dominant-baseline="central" transform="translate(781.62 619.125) scale(0.672 1)">D</text>
<text x="0" y="0" font-size="12.5" fill="#2e2e2e" text-anchor="middle" dominant-baseline="central" transform="translate(787.88 619.125) scale(0.624 1)">Q</text>
<text x="0" y="0" font-size="12.5" fill="#2e2e2e" text-anchor="middle" dominant-baseline="central" transform="translate(800.38 619.125) scale(0.872 1)">1</text>
<text x="0" y="0" font-size="12.5" fill="#2e2e2e" text-anchor="middle" dominant-baseline="central" transform="translate(806.62 619.125) scale(0.872 1)">9</text>
<text x="792.04" y="619.125" font-size="12.5" fill="#2e2e2e" dominant-baseline="central" >-</text>
<text x="0" y="0" font-size="12.5" fill="#2e2e2e" text-anchor="middle" dominant-baseline="central" transform="translate(847.88 619.125) scale(0.872 1)">2</text>
<text x="0" y="0" font-size="12.5" fill="#2e2e2e" text-anchor="middle" dominant-baseline="central" transform="translate(854.12 619.125) scale(0.872 1)">0</text>
<text x="0" y="0" font-size="12.5" fill="#2e2e2e" text-anchor="middle" dominant-baseline="central" transform="translate(884.25 619.125) scale(0.872 1)">1</text>
<text x="0" y="0" font-size="12.5" fill="#2e2e2e" text-anchor="middle" dominant-baseline="central" transform="translate(896.75 619.125) scale(0.872 1)">1</text>
<text x="887.98" y="619.125" font-size="12.5" fill="#2e2e2e" dominant-baseline="central" >.</text>
<text x="0" y="0" font-size="12.5" fill="#1e9ad6" text-anchor="middle" dominant-baseline="central" transform="translate(172.25 638.875) scale(0.872 1)">1</text>
<text x="0" y="0" font-size="12.5" fill="#1e9ad6" text-anchor="middle" dominant-baseline="central" transform="translate(178.50 638.875) scale(0.872 1)">0</text>
<text x="0" y="0" font-size="12.5" fill="#1e9ad6" text-anchor="middle" dominant-baseline="central" transform="translate(184.75 638.875) scale(0.872 1)">0</text>
<text x="0" y="0" font-size="12.5" fill="#2e2e2e" text-anchor="middle" dominant-baseline="central" transform="translate(222.50 638.875) scale(0.872 1)">3</text>
<text x="0" y="0" font-size="12.5" fill="#2e2e2e" text-anchor="middle" dominant-baseline="central" transform="translate(228.75 638.875) scale(0.872 1)">1</text>
<text x="0" y="0" font-size="12.5" fill="#2e2e2e" text-anchor="middle" dominant-baseline="central" transform="translate(241.25 638.875) scale(0.872 1)">8</text>
<text x="0" y="0" font-size="12.5" fill="#2e2e2e" text-anchor="middle" dominant-baseline="central" transform="translate(247.50 638.875) scale(0.872 1)">3</text>
<text x="232.47" y="638.875" font-size="12.5" fill="#2e2e2e" dominant-baseline="central" >.</text>
<text x="0" y="0" font-size="12.5" fill="#2e2e2e" text-anchor="middle" dominant-baseline="central" transform="translate(264.00 638.875) scale(0.872 1)">3</text>
<text x="0" y="0" font-size="12.5" fill="#2e2e2e" text-anchor="middle" dominant-baseline="central" transform="translate(270.25 638.875) scale(0.872 1)">1</text>
<text x="0" y="0" font-size="12.5" fill="#2e2e2e" text-anchor="middle" dominant-baseline="central" transform="translate(282.75 638.875) scale(0.872 1)">3</text>
<text x="0" y="0" font-size="12.5" fill="#2e2e2e" text-anchor="middle" dominant-baseline="central" transform="translate(289.00 638.875) scale(0.872 1)">2</text>
<text x="273.98" y="638.875" font-size="12.5" fill="#2e2e2e" dominant-baseline="central" >.</text>
<text x="0" y="0" font-size="12.5" fill="#2e2e2e" text-anchor="middle" dominant-baseline="central" transform="translate(313.38 638.875) scale(0.872 1)">3</text>
<text x="0" y="0" font-size="12.5" fill="#2e2e2e" text-anchor="middle" dominant-baseline="central" transform="translate(319.62 638.875) scale(0.872 1)">5</text>
<text x="0" y="0" font-size="12.5" fill="#2e2e2e" text-anchor="middle" dominant-baseline="central" transform="translate(352.38 638.875) scale(0.872 1)">2</text>
<text x="0" y="0" font-size="12.5" fill="#2e2e2e" text-anchor="middle" dominant-baseline="central" transform="translate(358.62 638.875) scale(0.872 1)">5</text>
<text x="0" y="0" font-size="12.5" fill="#2e2e2e" text-anchor="middle" dominant-baseline="central" transform="translate(390.88 638.875) scale(0.872 1)">1</text>
<text x="0" y="0" font-size="12.5" fill="#2e2e2e" text-anchor="middle" dominant-baseline="central" transform="translate(397.12 638.875) scale(0.872 1)">7</text>
<text x="0" y="0" font-size="12.5" fill="#2e2e2e" text-anchor="middle" dominant-baseline="central" transform="translate(429.38 638.875) scale(0.872 1)">1</text>
<text x="0" y="0" font-size="12.5" fill="#2e2e2e" text-anchor="middle" dominant-baseline="central" transform="translate(435.62 638.875) scale(0.872 1)">1</text>
<text x="0" y="0" font-size="12.5" fill="#2e2e2e" text-anchor="middle" dominant-baseline="central" transform="translate(468.38 638.875) scale(0.872 1)">1</text>
<text x="0" y="0" font-size="12.5" fill="#2e2e2e" text-anchor="middle" dominant-baseline="central" transform="translate(474.62 638.875) scale(0.872 1)">5</text>
<text x="0" y="0" font-size="12.5" fill="#2e2e2e" text-anchor="middle" dominant-baseline="central" transform="translate(503.75 638.875) scale(0.872 1)">4</text>
<text x="0" y="0" font-size="12.5" fill="#2e2e2e" text-anchor="middle" dominant-baseline="central" transform="translate(516.25 638.875) scale(0.872 1)">5</text>
<text x="507.48" y="638.875" font-size="12.5" fill="#2e2e2e" dominant-baseline="central" >.</text>
<text x="0" y="0" font-size="12.5" fill="#2e2e2e" text-anchor="middle" dominant-baseline="central" transform="translate(542.25 638.875) scale(0.872 1)">1</text>
<text x="0" y="0" font-size="12.5" fill="#2e2e2e" text-anchor="middle" dominant-baseline="central" transform="translate(554.75 638.875) scale(0.872 1)">5</text>
<text x="545.98" y="638.875" font-size="12.5" fill="#2e2e2e" dominant-baseline="central" >.</text>
<text x="0" y="0" font-size="12.5" fill="#2e2e2e" text-anchor="middle" dominant-baseline="central" transform="translate(580.12 638.875) scale(0.872 1)">6</text>
<text x="0" y="0" font-size="12.5" fill="#2e2e2e" text-anchor="middle" dominant-baseline="central" transform="translate(586.38 638.875) scale(0.872 1)">9</text>
<text x="0" y="0" font-size="12.5" fill="#2e2e2e" text-anchor="middle" dominant-baseline="central" transform="translate(592.62 638.875) scale(0.872 1)">8</text>
<text x="0" y="0" font-size="12.5" fill="#2e2e2e" text-anchor="middle" dominant-baseline="central" transform="translate(598.88 638.875) scale(0.794 1)">Z</text>
<text x="0" y="0" font-size="12.5" fill="#2e2e2e" text-anchor="middle" dominant-baseline="central" transform="translate(605.12 638.875) scale(0.794 1)">Z</text>
<text x="0" y="0" font-size="12.5" fill="#2e2e2e" text-anchor="middle" dominant-baseline="central" transform="translate(623.88 638.875) scale(0.872 1)">1</text>
<text x="609.03" y="638.875" font-size="12.5" fill="#2e2e2e" dominant-baseline="central" ><tspan font-size="18.8">×</tspan></text>
<text x="0" y="0" font-size="12.5" fill="#2e2e2e" text-anchor="middle" dominant-baseline="central" transform="translate(655.50 638.875) scale(0.872 1)">8</text>
<text x="0" y="0" font-size="12.5" fill="#2e2e2e" text-anchor="middle" dominant-baseline="central" transform="translate(690.88 638.875) scale(0.872 1)">1</text>
<text x="0" y="0" font-size="12.5" fill="#2e2e2e" text-anchor="middle" dominant-baseline="central" transform="translate(697.12 638.875) scale(0.872 1)">9</text>
<text x="0" y="0" font-size="12.5" fill="#2e2e2e" text-anchor="middle" dominant-baseline="central" transform="translate(732.00 638.875) scale(0.872 1)">6</text>
<text x="0" y="0" font-size="12.5" fill="#2e2e2e" text-anchor="middle" dominant-baseline="central" transform="translate(775.38 638.875) scale(0.727 1)">K</text>
<text x="0" y="0" font-size="12.5" fill="#2e2e2e" text-anchor="middle" dominant-baseline="central" transform="translate(781.62 638.875) scale(0.672 1)">D</text>
<text x="0" y="0" font-size="12.5" fill="#2e2e2e" text-anchor="middle" dominant-baseline="central" transform="translate(787.88 638.875) scale(0.624 1)">Q</text>
<text x="0" y="0" font-size="12.5" fill="#2e2e2e" text-anchor="middle" dominant-baseline="central" transform="translate(800.38 638.875) scale(0.872 1)">1</text>
<text x="0" y="0" font-size="12.5" fill="#2e2e2e" text-anchor="middle" dominant-baseline="central" transform="translate(806.62 638.875) scale(0.872 1)">9</text>
<text x="792.04" y="638.875" font-size="12.5" fill="#2e2e2e" dominant-baseline="central" >-</text>
<text x="0" y="0" font-size="12.5" fill="#2e2e2e" text-anchor="middle" dominant-baseline="central" transform="translate(847.88 638.875) scale(0.872 1)">2</text>
<text x="0" y="0" font-size="12.5" fill="#2e2e2e" text-anchor="middle" dominant-baseline="central" transform="translate(854.12 638.875) scale(0.872 1)">0</text>
<text x="0" y="0" font-size="12.5" fill="#2e2e2e" text-anchor="middle" dominant-baseline="central" transform="translate(884.25 638.875) scale(0.872 1)">1</text>
<text x="0" y="0" font-size="12.5" fill="#2e2e2e" text-anchor="middle" dominant-baseline="central" transform="translate(896.75 638.875) scale(0.872 1)">1</text>
<text x="887.98" y="638.875" font-size="12.5" fill="#2e2e2e" dominant-baseline="central" >.</text>
<text x="0" y="0" font-size="12.5" fill="#1e9ad6" text-anchor="middle" dominant-baseline="central" transform="translate(172.25 658.625) scale(0.872 1)">0</text>
<text x="0" y="0" font-size="12.5" fill="#1e9ad6" text-anchor="middle" dominant-baseline="central" transform="translate(178.50 658.625) scale(0.872 1)">4</text>
<text x="0" y="0" font-size="12.5" fill="#1e9ad6" text-anchor="middle" dominant-baseline="central" transform="translate(184.75 658.625) scale(0.872 1)">0</text>
<text x="0" y="0" font-size="12.5" fill="#2e2e2e" text-anchor="middle" dominant-baseline="central" transform="translate(225.62 658.625) scale(0.872 1)">3</text>
<text x="0" y="0" font-size="12.5" fill="#2e2e2e" text-anchor="middle" dominant-baseline="central" transform="translate(231.88 658.625) scale(0.872 1)">8</text>
<text x="0" y="0" font-size="12.5" fill="#2e2e2e" text-anchor="middle" dominant-baseline="central" transform="translate(244.38 658.625) scale(0.872 1)">2</text>
<text x="235.60" y="658.625" font-size="12.5" fill="#2e2e2e" dominant-baseline="central" >.</text>
<text x="0" y="0" font-size="12.5" fill="#2e2e2e" text-anchor="middle" dominant-baseline="central" transform="translate(264.00 658.625) scale(0.872 1)">3</text>
<text x="0" y="0" font-size="12.5" fill="#2e2e2e" text-anchor="middle" dominant-baseline="central" transform="translate(270.25 658.625) scale(0.872 1)">7</text>
<text x="0" y="0" font-size="12.5" fill="#2e2e2e" text-anchor="middle" dominant-baseline="central" transform="translate(282.75 658.625) scale(0.872 1)">6</text>
<text x="0" y="0" font-size="12.5" fill="#2e2e2e" text-anchor="middle" dominant-baseline="central" transform="translate(289.00 658.625) scale(0.872 1)">9</text>
<text x="273.98" y="658.625" font-size="12.5" fill="#2e2e2e" dominant-baseline="central" >.</text>
<text x="0" y="0" font-size="12.5" fill="#2e2e2e" text-anchor="middle" dominant-baseline="central" transform="translate(313.38 658.625) scale(0.872 1)">4</text>
<text x="0" y="0" font-size="12.5" fill="#2e2e2e" text-anchor="middle" dominant-baseline="central" transform="translate(319.62 658.625) scale(0.872 1)">4</text>
<text x="0" y="0" font-size="12.5" fill="#2e2e2e" text-anchor="middle" dominant-baseline="central" transform="translate(352.38 658.625) scale(0.872 1)">3</text>
<text x="0" y="0" font-size="12.5" fill="#2e2e2e" text-anchor="middle" dominant-baseline="central" transform="translate(358.62 658.625) scale(0.872 1)">3</text>
<text x="0" y="0" font-size="12.5" fill="#2e2e2e" text-anchor="middle" dominant-baseline="central" transform="translate(390.88 658.625) scale(0.872 1)">2</text>
<text x="0" y="0" font-size="12.5" fill="#2e2e2e" text-anchor="middle" dominant-baseline="central" transform="translate(397.12 658.625) scale(0.872 1)">0</text>
<text x="0" y="0" font-size="12.5" fill="#2e2e2e" text-anchor="middle" dominant-baseline="central" transform="translate(432.50 658.625) scale(0.872 1)">5</text>
<text x="0" y="0" font-size="12.5" fill="#2e2e2e" text-anchor="middle" dominant-baseline="central" transform="translate(471.50 658.625) scale(0.872 1)">9</text>
<text x="0" y="0" font-size="12.5" fill="#2e2e2e" text-anchor="middle" dominant-baseline="central" transform="translate(503.75 658.625) scale(0.872 1)">1</text>
<text x="0" y="0" font-size="12.5" fill="#2e2e2e" text-anchor="middle" dominant-baseline="central" transform="translate(516.25 658.625) scale(0.872 1)">5</text>
<text x="507.48" y="658.625" font-size="12.5" fill="#2e2e2e" dominant-baseline="central" >.</text>
<text x="0" y="0" font-size="12.5" fill="#2e2e2e" text-anchor="middle" dominant-baseline="central" transform="translate(542.25 658.625) scale(0.872 1)">1</text>
<text x="0" y="0" font-size="12.5" fill="#2e2e2e" text-anchor="middle" dominant-baseline="central" transform="translate(554.75 658.625) scale(0.872 1)">5</text>
<text x="545.98" y="658.625" font-size="12.5" fill="#2e2e2e" dominant-baseline="central" >.</text>
<text x="0" y="0" font-size="12.5" fill="#2e2e2e" text-anchor="middle" dominant-baseline="central" transform="translate(577.00 658.625) scale(0.872 1)">6</text>
<text x="0" y="0" font-size="12.5" fill="#2e2e2e" text-anchor="middle" dominant-baseline="central" transform="translate(583.25 658.625) scale(0.872 1)">9</text>
<text x="0" y="0" font-size="12.5" fill="#2e2e2e" text-anchor="middle" dominant-baseline="central" transform="translate(589.50 658.625) scale(0.872 1)">0</text>
<text x="0" y="0" font-size="12.5" fill="#2e2e2e" text-anchor="middle" dominant-baseline="central" transform="translate(595.75 658.625) scale(0.872 1)">0</text>
<text x="0" y="0" font-size="12.5" fill="#2e2e2e" text-anchor="middle" dominant-baseline="central" transform="translate(602.00 658.625) scale(0.794 1)">Z</text>
<text x="0" y="0" font-size="12.5" fill="#2e2e2e" text-anchor="middle" dominant-baseline="central" transform="translate(608.25 658.625) scale(0.794 1)">Z</text>
<text x="0" y="0" font-size="12.5" fill="#2e2e2e" text-anchor="middle" dominant-baseline="central" transform="translate(627.00 658.625) scale(0.872 1)">1</text>
<text x="612.15" y="658.625" font-size="12.5" fill="#2e2e2e" dominant-baseline="central" ><tspan font-size="18.8">×</tspan></text>
<text x="0" y="0" font-size="12.5" fill="#2e2e2e" text-anchor="middle" dominant-baseline="central" transform="translate(652.38 658.625) scale(0.872 1)">1</text>
<text x="0" y="0" font-size="12.5" fill="#2e2e2e" text-anchor="middle" dominant-baseline="central" transform="translate(658.62 658.625) scale(0.872 1)">0</text>
<text x="0" y="0" font-size="12.5" fill="#2e2e2e" text-anchor="middle" dominant-baseline="central" transform="translate(690.88 658.625) scale(0.872 1)">2</text>
<text x="0" y="0" font-size="12.5" fill="#2e2e2e" text-anchor="middle" dominant-baseline="central" transform="translate(697.12 658.625) scale(0.872 1)">2</text>
<text x="0" y="0" font-size="12.5" fill="#2e2e2e" text-anchor="middle" dominant-baseline="central" transform="translate(732.00 658.625) scale(0.872 1)">6</text>
<text x="0" y="0" font-size="12.5" fill="#2e2e2e" text-anchor="middle" dominant-baseline="central" transform="translate(775.38 658.625) scale(0.727 1)">K</text>
<text x="0" y="0" font-size="12.5" fill="#2e2e2e" text-anchor="middle" dominant-baseline="central" transform="translate(781.62 658.625) scale(0.672 1)">D</text>
<text x="0" y="0" font-size="12.5" fill="#2e2e2e" text-anchor="middle" dominant-baseline="central" transform="translate(787.88 658.625) scale(0.624 1)">Q</text>
<text x="0" y="0" font-size="12.5" fill="#2e2e2e" text-anchor="middle" dominant-baseline="central" transform="translate(800.38 658.625) scale(0.872 1)">2</text>
<text x="0" y="0" font-size="12.5" fill="#2e2e2e" text-anchor="middle" dominant-baseline="central" transform="translate(806.62 658.625) scale(0.872 1)">2</text>
<text x="792.04" y="658.625" font-size="12.5" fill="#2e2e2e" dominant-baseline="central" >-</text>
<text x="0" y="0" font-size="12.5" fill="#2e2e2e" text-anchor="middle" dominant-baseline="central" transform="translate(847.88 658.625) scale(0.872 1)">2</text>
<text x="0" y="0" font-size="12.5" fill="#2e2e2e" text-anchor="middle" dominant-baseline="central" transform="translate(854.12 658.625) scale(0.872 1)">3</text>
<text x="0" y="0" font-size="12.5" fill="#2e2e2e" text-anchor="middle" dominant-baseline="central" transform="translate(884.25 658.625) scale(0.872 1)">1</text>
<text x="0" y="0" font-size="12.5" fill="#2e2e2e" text-anchor="middle" dominant-baseline="central" transform="translate(896.75 658.625) scale(0.872 1)">1</text>
<text x="887.98" y="658.625" font-size="12.5" fill="#2e2e2e" dominant-baseline="central" >.</text>
<text x="0" y="0" font-size="12.5" fill="#1e9ad6" text-anchor="middle" dominant-baseline="central" transform="translate(172.25 678.375) scale(0.872 1)">0</text>
<text x="0" y="0" font-size="12.5" fill="#1e9ad6" text-anchor="middle" dominant-baseline="central" transform="translate(178.50 678.375) scale(0.872 1)">6</text>
<text x="0" y="0" font-size="12.5" fill="#1e9ad6" text-anchor="middle" dominant-baseline="central" transform="translate(184.75 678.375) scale(0.872 1)">0</text>
<text x="0" y="0" font-size="12.5" fill="#2e2e2e" text-anchor="middle" dominant-baseline="central" transform="translate(225.62 678.375) scale(0.872 1)">3</text>
<text x="0" y="0" font-size="12.5" fill="#2e2e2e" text-anchor="middle" dominant-baseline="central" transform="translate(231.88 678.375) scale(0.872 1)">8</text>
<text x="0" y="0" font-size="12.5" fill="#2e2e2e" text-anchor="middle" dominant-baseline="central" transform="translate(244.38 678.375) scale(0.872 1)">2</text>
<text x="235.60" y="678.375" font-size="12.5" fill="#2e2e2e" dominant-baseline="central" >.</text>
<text x="0" y="0" font-size="12.5" fill="#2e2e2e" text-anchor="middle" dominant-baseline="central" transform="translate(264.00 678.375) scale(0.872 1)">3</text>
<text x="0" y="0" font-size="12.5" fill="#2e2e2e" text-anchor="middle" dominant-baseline="central" transform="translate(270.25 678.375) scale(0.872 1)">7</text>
<text x="0" y="0" font-size="12.5" fill="#2e2e2e" text-anchor="middle" dominant-baseline="central" transform="translate(282.75 678.375) scale(0.872 1)">6</text>
<text x="0" y="0" font-size="12.5" fill="#2e2e2e" text-anchor="middle" dominant-baseline="central" transform="translate(289.00 678.375) scale(0.872 1)">9</text>
<text x="273.98" y="678.375" font-size="12.5" fill="#2e2e2e" dominant-baseline="central" >.</text>
<text x="0" y="0" font-size="12.5" fill="#2e2e2e" text-anchor="middle" dominant-baseline="central" transform="translate(313.38 678.375) scale(0.872 1)">4</text>
<text x="0" y="0" font-size="12.5" fill="#2e2e2e" text-anchor="middle" dominant-baseline="central" transform="translate(319.62 678.375) scale(0.872 1)">4</text>
<text x="0" y="0" font-size="12.5" fill="#2e2e2e" text-anchor="middle" dominant-baseline="central" transform="translate(352.38 678.375) scale(0.872 1)">3</text>
<text x="0" y="0" font-size="12.5" fill="#2e2e2e" text-anchor="middle" dominant-baseline="central" transform="translate(358.62 678.375) scale(0.872 1)">3</text>
<text x="0" y="0" font-size="12.5" fill="#2e2e2e" text-anchor="middle" dominant-baseline="central" transform="translate(390.88 678.375) scale(0.872 1)">2</text>
<text x="0" y="0" font-size="12.5" fill="#2e2e2e" text-anchor="middle" dominant-baseline="central" transform="translate(397.12 678.375) scale(0.872 1)">0</text>
<text x="0" y="0" font-size="12.5" fill="#2e2e2e" text-anchor="middle" dominant-baseline="central" transform="translate(432.50 678.375) scale(0.872 1)">7</text>
<text x="0" y="0" font-size="12.5" fill="#2e2e2e" text-anchor="middle" dominant-baseline="central" transform="translate(468.38 678.375) scale(0.872 1)">1</text>
<text x="0" y="0" font-size="12.5" fill="#2e2e2e" text-anchor="middle" dominant-baseline="central" transform="translate(474.62 678.375) scale(0.872 1)">1</text>
<text x="0" y="0" font-size="12.5" fill="#2e2e2e" text-anchor="middle" dominant-baseline="central" transform="translate(503.75 678.375) scale(0.872 1)">2</text>
<text x="0" y="0" font-size="12.5" fill="#2e2e2e" text-anchor="middle" dominant-baseline="central" transform="translate(516.25 678.375) scale(0.872 1)">5</text>
<text x="507.48" y="678.375" font-size="12.5" fill="#2e2e2e" dominant-baseline="central" >.</text>
<text x="0" y="0" font-size="12.5" fill="#2e2e2e" text-anchor="middle" dominant-baseline="central" transform="translate(542.25 678.375) scale(0.872 1)">1</text>
<text x="0" y="0" font-size="12.5" fill="#2e2e2e" text-anchor="middle" dominant-baseline="central" transform="translate(554.75 678.375) scale(0.872 1)">5</text>
<text x="545.98" y="678.375" font-size="12.5" fill="#2e2e2e" dominant-baseline="central" >.</text>
<text x="0" y="0" font-size="12.5" fill="#2e2e2e" text-anchor="middle" dominant-baseline="central" transform="translate(577.00 678.375) scale(0.872 1)">6</text>
<text x="0" y="0" font-size="12.5" fill="#2e2e2e" text-anchor="middle" dominant-baseline="central" transform="translate(583.25 678.375) scale(0.872 1)">9</text>
<text x="0" y="0" font-size="12.5" fill="#2e2e2e" text-anchor="middle" dominant-baseline="central" transform="translate(589.50 678.375) scale(0.872 1)">0</text>
<text x="0" y="0" font-size="12.5" fill="#2e2e2e" text-anchor="middle" dominant-baseline="central" transform="translate(595.75 678.375) scale(0.872 1)">0</text>
<text x="0" y="0" font-size="12.5" fill="#2e2e2e" text-anchor="middle" dominant-baseline="central" transform="translate(602.00 678.375) scale(0.794 1)">Z</text>
<text x="0" y="0" font-size="12.5" fill="#2e2e2e" text-anchor="middle" dominant-baseline="central" transform="translate(608.25 678.375) scale(0.794 1)">Z</text>
<text x="0" y="0" font-size="12.5" fill="#2e2e2e" text-anchor="middle" dominant-baseline="central" transform="translate(627.00 678.375) scale(0.872 1)">1</text>
<text x="612.15" y="678.375" font-size="12.5" fill="#2e2e2e" dominant-baseline="central" ><tspan font-size="18.8">×</tspan></text>
<text x="0" y="0" font-size="12.5" fill="#2e2e2e" text-anchor="middle" dominant-baseline="central" transform="translate(652.38 678.375) scale(0.872 1)">1</text>
<text x="0" y="0" font-size="12.5" fill="#2e2e2e" text-anchor="middle" dominant-baseline="central" transform="translate(658.62 678.375) scale(0.872 1)">0</text>
<text x="0" y="0" font-size="12.5" fill="#2e2e2e" text-anchor="middle" dominant-baseline="central" transform="translate(690.88 678.375) scale(0.872 1)">2</text>
<text x="0" y="0" font-size="12.5" fill="#2e2e2e" text-anchor="middle" dominant-baseline="central" transform="translate(697.12 678.375) scale(0.872 1)">2</text>
<text x="0" y="0" font-size="12.5" fill="#2e2e2e" text-anchor="middle" dominant-baseline="central" transform="translate(732.00 678.375) scale(0.872 1)">6</text>
<text x="0" y="0" font-size="12.5" fill="#2e2e2e" text-anchor="middle" dominant-baseline="central" transform="translate(775.38 678.375) scale(0.727 1)">K</text>
<text x="0" y="0" font-size="12.5" fill="#2e2e2e" text-anchor="middle" dominant-baseline="central" transform="translate(781.62 678.375) scale(0.672 1)">D</text>
<text x="0" y="0" font-size="12.5" fill="#2e2e2e" text-anchor="middle" dominant-baseline="central" transform="translate(787.88 678.375) scale(0.624 1)">Q</text>
<text x="0" y="0" font-size="12.5" fill="#2e2e2e" text-anchor="middle" dominant-baseline="central" transform="translate(800.38 678.375) scale(0.872 1)">2</text>
<text x="0" y="0" font-size="12.5" fill="#2e2e2e" text-anchor="middle" dominant-baseline="central" transform="translate(806.62 678.375) scale(0.872 1)">2</text>
<text x="792.04" y="678.375" font-size="12.5" fill="#2e2e2e" dominant-baseline="central" >-</text>
<text x="0" y="0" font-size="12.5" fill="#2e2e2e" text-anchor="middle" dominant-baseline="central" transform="translate(847.88 678.375) scale(0.872 1)">2</text>
<text x="0" y="0" font-size="12.5" fill="#2e2e2e" text-anchor="middle" dominant-baseline="central" transform="translate(854.12 678.375) scale(0.872 1)">3</text>
<text x="0" y="0" font-size="12.5" fill="#2e2e2e" text-anchor="middle" dominant-baseline="central" transform="translate(884.25 678.375) scale(0.872 1)">1</text>
<text x="0" y="0" font-size="12.5" fill="#2e2e2e" text-anchor="middle" dominant-baseline="central" transform="translate(896.75 678.375) scale(0.872 1)">1</text>
<text x="887.98" y="678.375" font-size="12.5" fill="#2e2e2e" dominant-baseline="central" >.</text>
<text x="0" y="0" font-size="12.5" fill="#1e9ad6" text-anchor="middle" dominant-baseline="central" transform="translate(172.25 698.125) scale(0.872 1)">1</text>
<text x="0" y="0" font-size="12.5" fill="#1e9ad6" text-anchor="middle" dominant-baseline="central" transform="translate(178.50 698.125) scale(0.872 1)">0</text>
<text x="0" y="0" font-size="12.5" fill="#1e9ad6" text-anchor="middle" dominant-baseline="central" transform="translate(184.75 698.125) scale(0.872 1)">0</text>
<text x="0" y="0" font-size="12.5" fill="#2e2e2e" text-anchor="middle" dominant-baseline="central" transform="translate(225.62 698.125) scale(0.872 1)">3</text>
<text x="0" y="0" font-size="12.5" fill="#2e2e2e" text-anchor="middle" dominant-baseline="central" transform="translate(231.88 698.125) scale(0.872 1)">8</text>
<text x="0" y="0" font-size="12.5" fill="#2e2e2e" text-anchor="middle" dominant-baseline="central" transform="translate(244.38 698.125) scale(0.872 1)">2</text>
<text x="235.60" y="698.125" font-size="12.5" fill="#2e2e2e" dominant-baseline="central" >.</text>
<text x="0" y="0" font-size="12.5" fill="#2e2e2e" text-anchor="middle" dominant-baseline="central" transform="translate(264.00 698.125) scale(0.872 1)">3</text>
<text x="0" y="0" font-size="12.5" fill="#2e2e2e" text-anchor="middle" dominant-baseline="central" transform="translate(270.25 698.125) scale(0.872 1)">7</text>
<text x="0" y="0" font-size="12.5" fill="#2e2e2e" text-anchor="middle" dominant-baseline="central" transform="translate(282.75 698.125) scale(0.872 1)">6</text>
<text x="0" y="0" font-size="12.5" fill="#2e2e2e" text-anchor="middle" dominant-baseline="central" transform="translate(289.00 698.125) scale(0.872 1)">9</text>
<text x="273.98" y="698.125" font-size="12.5" fill="#2e2e2e" dominant-baseline="central" >.</text>
<text x="0" y="0" font-size="12.5" fill="#2e2e2e" text-anchor="middle" dominant-baseline="central" transform="translate(313.38 698.125) scale(0.872 1)">4</text>
<text x="0" y="0" font-size="12.5" fill="#2e2e2e" text-anchor="middle" dominant-baseline="central" transform="translate(319.62 698.125) scale(0.872 1)">4</text>
<text x="0" y="0" font-size="12.5" fill="#2e2e2e" text-anchor="middle" dominant-baseline="central" transform="translate(352.38 698.125) scale(0.872 1)">3</text>
<text x="0" y="0" font-size="12.5" fill="#2e2e2e" text-anchor="middle" dominant-baseline="central" transform="translate(358.62 698.125) scale(0.872 1)">3</text>
<text x="0" y="0" font-size="12.5" fill="#2e2e2e" text-anchor="middle" dominant-baseline="central" transform="translate(390.88 698.125) scale(0.872 1)">2</text>
<text x="0" y="0" font-size="12.5" fill="#2e2e2e" text-anchor="middle" dominant-baseline="central" transform="translate(397.12 698.125) scale(0.872 1)">0</text>
<text x="0" y="0" font-size="12.5" fill="#2e2e2e" text-anchor="middle" dominant-baseline="central" transform="translate(429.38 698.125) scale(0.872 1)">1</text>
<text x="0" y="0" font-size="12.5" fill="#2e2e2e" text-anchor="middle" dominant-baseline="central" transform="translate(435.62 698.125) scale(0.872 1)">1</text>
<text x="0" y="0" font-size="12.5" fill="#2e2e2e" text-anchor="middle" dominant-baseline="central" transform="translate(468.38 698.125) scale(0.872 1)">1</text>
<text x="0" y="0" font-size="12.5" fill="#2e2e2e" text-anchor="middle" dominant-baseline="central" transform="translate(474.62 698.125) scale(0.872 1)">5</text>
<text x="0" y="0" font-size="12.5" fill="#2e2e2e" text-anchor="middle" dominant-baseline="central" transform="translate(503.75 698.125) scale(0.872 1)">4</text>
<text x="0" y="0" font-size="12.5" fill="#2e2e2e" text-anchor="middle" dominant-baseline="central" transform="translate(516.25 698.125) scale(0.872 1)">5</text>
<text x="507.48" y="698.125" font-size="12.5" fill="#2e2e2e" dominant-baseline="central" >.</text>
<text x="0" y="0" font-size="12.5" fill="#2e2e2e" text-anchor="middle" dominant-baseline="central" transform="translate(542.25 698.125) scale(0.872 1)">1</text>
<text x="0" y="0" font-size="12.5" fill="#2e2e2e" text-anchor="middle" dominant-baseline="central" transform="translate(554.75 698.125) scale(0.872 1)">5</text>
<text x="545.98" y="698.125" font-size="12.5" fill="#2e2e2e" dominant-baseline="central" >.</text>
<text x="0" y="0" font-size="12.5" fill="#2e2e2e" text-anchor="middle" dominant-baseline="central" transform="translate(577.00 698.125) scale(0.872 1)">6</text>
<text x="0" y="0" font-size="12.5" fill="#2e2e2e" text-anchor="middle" dominant-baseline="central" transform="translate(583.25 698.125) scale(0.872 1)">9</text>
<text x="0" y="0" font-size="12.5" fill="#2e2e2e" text-anchor="middle" dominant-baseline="central" transform="translate(589.50 698.125) scale(0.872 1)">0</text>
<text x="0" y="0" font-size="12.5" fill="#2e2e2e" text-anchor="middle" dominant-baseline="central" transform="translate(595.75 698.125) scale(0.872 1)">0</text>
<text x="0" y="0" font-size="12.5" fill="#2e2e2e" text-anchor="middle" dominant-baseline="central" transform="translate(602.00 698.125) scale(0.794 1)">Z</text>
<text x="0" y="0" font-size="12.5" fill="#2e2e2e" text-anchor="middle" dominant-baseline="central" transform="translate(608.25 698.125) scale(0.794 1)">Z</text>
<text x="0" y="0" font-size="12.5" fill="#2e2e2e" text-anchor="middle" dominant-baseline="central" transform="translate(627.00 698.125) scale(0.872 1)">1</text>
<text x="612.15" y="698.125" font-size="12.5" fill="#2e2e2e" dominant-baseline="central" ><tspan font-size="18.8">×</tspan></text>
<text x="0" y="0" font-size="12.5" fill="#2e2e2e" text-anchor="middle" dominant-baseline="central" transform="translate(652.38 698.125) scale(0.872 1)">1</text>
<text x="0" y="0" font-size="12.5" fill="#2e2e2e" text-anchor="middle" dominant-baseline="central" transform="translate(658.62 698.125) scale(0.872 1)">0</text>
<text x="0" y="0" font-size="12.5" fill="#2e2e2e" text-anchor="middle" dominant-baseline="central" transform="translate(690.88 698.125) scale(0.872 1)">2</text>
<text x="0" y="0" font-size="12.5" fill="#2e2e2e" text-anchor="middle" dominant-baseline="central" transform="translate(697.12 698.125) scale(0.872 1)">2</text>
<text x="0" y="0" font-size="12.5" fill="#2e2e2e" text-anchor="middle" dominant-baseline="central" transform="translate(732.00 698.125) scale(0.872 1)">6</text>
<text x="0" y="0" font-size="12.5" fill="#2e2e2e" text-anchor="middle" dominant-baseline="central" transform="translate(775.38 698.125) scale(0.727 1)">K</text>
<text x="0" y="0" font-size="12.5" fill="#2e2e2e" text-anchor="middle" dominant-baseline="central" transform="translate(781.62 698.125) scale(0.672 1)">D</text>
<text x="0" y="0" font-size="12.5" fill="#2e2e2e" text-anchor="middle" dominant-baseline="central" transform="translate(787.88 698.125) scale(0.624 1)">Q</text>
<text x="0" y="0" font-size="12.5" fill="#2e2e2e" text-anchor="middle" dominant-baseline="central" transform="translate(800.38 698.125) scale(0.872 1)">2</text>
<text x="0" y="0" font-size="12.5" fill="#2e2e2e" text-anchor="middle" dominant-baseline="central" transform="translate(806.62 698.125) scale(0.872 1)">2</text>
<text x="792.04" y="698.125" font-size="12.5" fill="#2e2e2e" dominant-baseline="central" >-</text>
<text x="0" y="0" font-size="12.5" fill="#2e2e2e" text-anchor="middle" dominant-baseline="central" transform="translate(847.88 698.125) scale(0.872 1)">2</text>
<text x="0" y="0" font-size="12.5" fill="#2e2e2e" text-anchor="middle" dominant-baseline="central" transform="translate(854.12 698.125) scale(0.872 1)">3</text>
<text x="0" y="0" font-size="12.5" fill="#2e2e2e" text-anchor="middle" dominant-baseline="central" transform="translate(884.25 698.125) scale(0.872 1)">1</text>
<text x="0" y="0" font-size="12.5" fill="#2e2e2e" text-anchor="middle" dominant-baseline="central" transform="translate(896.75 698.125) scale(0.872 1)">1</text>
<text x="887.98" y="698.125" font-size="12.5" fill="#2e2e2e" dominant-baseline="central" >.</text>
<rect x="0.75" y="719.75" width="908.5" height="93.5" fill="none" stroke="#f19a74" stroke-width="1.5"/>
<circle cx="54" cy="766.6" r="23.6" fill="none" stroke="#3b74a3" stroke-width="4.6"/>
<g stroke="#3b74a3" stroke-width="2" fill="none" stroke-linecap="butt"><path d="M35.4 761.9 H59.3 M37.8 767.6 H58.3 M40 772.9 H57.4 M57.4 773.6 L61.4 755 H70.7"/></g>
<circle cx="42.1" cy="779.6" r="1.9" fill="#3b74a3"/><circle cx="58.9" cy="779.3" r="3" fill="#3b74a3"/>
<text x="112" y="758.6" font-size="13.5" fill="#555" text-anchor="middle" dominant-baseline="central" letter-spacing="1">订购范例</text>
<text x="112" y="774.7" font-size="12" fill="#555" text-anchor="middle" dominant-baseline="central" letter-spacing="1.6">O r d e r</text>
<line x1="224.5" y1="758" x2="224.5" y2="794.5" stroke="#666" stroke-width="1" />
<line x1="242.5" y1="758" x2="242.5" y2="794.5" stroke="#666" stroke-width="1" />
<line x1="314.5" y1="758" x2="314.5" y2="794.5" stroke="#666" stroke-width="1" />
<line x1="332.5" y1="758" x2="332.5" y2="794.5" stroke="#666" stroke-width="1" />
<line x1="153.5" y1="758.5" x2="403.5" y2="758.5" stroke="#666" stroke-width="1" />
<line x1="153.5" y1="776.5" x2="403.5" y2="776.5" stroke="#666" stroke-width="1" />
<rect x="153.5" y="739.5" width="250.0" height="55.0" fill="none" stroke="#333" stroke-width="1.5"/>
<text x="278" y="749" font-size="13" fill="#2e2e2e" text-anchor="middle" dominant-baseline="central" >标准品名：齿形惰轮</text>
<circle cx="167" cy="767.5" r="6.2" fill="#ef6a2b"/>
<text x="167" y="768.0" font-size="10" fill="#fff" text-anchor="middle" dominant-baseline="central" font-weight="bold">1</text>
<text x="194" y="767.5" font-size="13" fill="#2e2e2e" text-anchor="middle" dominant-baseline="central" >类型码</text>
<text x="233.5" y="767.5" font-size="12" fill="#2e2e2e" text-anchor="middle" dominant-baseline="central" >−</text>
<circle cx="266" cy="767.5" r="6.2" fill="#ef6a2b"/>
<text x="266" y="768.0" font-size="10" fill="#fff" text-anchor="middle" dominant-baseline="central" font-weight="bold">2</text>
<text x="287" y="767.5" font-size="13" fill="#2e2e2e" text-anchor="middle" dominant-baseline="central" >齿数</text>
<text x="323.5" y="767.5" font-size="12" fill="#2e2e2e" text-anchor="middle" dominant-baseline="central" >−</text>
<circle cx="341" cy="767.5" r="6.2" fill="#ef6a2b"/>
<text x="341" y="768.0" font-size="10" fill="#fff" text-anchor="middle" dominant-baseline="central" font-weight="bold">3</text>
<text x="372" y="767.5" font-size="13" fill="#2e2e2e" text-anchor="middle" dominant-baseline="central" >宽度代码</text>
<text x="0" y="0" font-size="12.5" fill="#1e9ad6" text-anchor="middle" dominant-baseline="central" transform="translate(176.40 785.5) scale(0.879 1)">L</text>
<text x="0" y="0" font-size="12.5" fill="#1e9ad6" text-anchor="middle" dominant-baseline="central" transform="translate(182.70 785.5) scale(0.733 1)">A</text>
<text x="0" y="0" font-size="12.5" fill="#1e9ad6" text-anchor="middle" dominant-baseline="central" transform="translate(189.00 785.5) scale(0.733 1)">S</text>
<text x="0" y="0" font-size="12.5" fill="#1e9ad6" text-anchor="middle" dominant-baseline="central" transform="translate(195.30 785.5) scale(0.879 1)">2</text>
<text x="0" y="0" font-size="12.5" fill="#1e9ad6" text-anchor="middle" dominant-baseline="central" transform="translate(201.60 785.5) scale(0.587 1)">M</text>
<text x="233.5" y="785.5" font-size="12" fill="#1e9ad6" text-anchor="middle" dominant-baseline="central" >−</text>
<text x="0" y="0" font-size="12.5" fill="#1e9ad6" text-anchor="middle" dominant-baseline="central" transform="translate(275.38 785.5) scale(0.872 1)">4</text>
<text x="0" y="0" font-size="12.5" fill="#1e9ad6" text-anchor="middle" dominant-baseline="central" transform="translate(281.62 785.5) scale(0.872 1)">0</text>
<text x="323.5" y="785.5" font-size="12" fill="#1e9ad6" text-anchor="middle" dominant-baseline="central" >−</text>
<text x="0" y="0" font-size="12.5" fill="#1e9ad6" text-anchor="middle" dominant-baseline="central" transform="translate(361.75 785.5) scale(0.872 1)">1</text>
<text x="0" y="0" font-size="12.5" fill="#1e9ad6" text-anchor="middle" dominant-baseline="central" transform="translate(368.00 785.5) scale(0.872 1)">0</text>
<text x="0" y="0" font-size="12.5" fill="#1e9ad6" text-anchor="middle" dominant-baseline="central" transform="translate(374.25 785.5) scale(0.872 1)">0</text>
<circle cx="613.2" cy="767" r="23.7" fill="none" stroke="#3b74a3" stroke-width="4.6"/>
<g stroke="#3b74a3" stroke-width="1.6" fill="none" stroke-linejoin="round"><path d="M598.5 762.5 L613 755 L627.8 762 L613 769.5 Z"/><path d="M598.5 762.5 V777 L613 783.5 V769.5"/><path d="M627.8 762 V776.5 L613 783.5"/><path d="M605 759.5 L604.5 752 L619.5 757.5"/><path d="M601.5 768.2 L609.5 772 V778 L601.5 774.2 Z"/></g>
<text x="672.3" y="758.5" font-size="12.5" fill="#444" text-anchor="middle" dominant-baseline="central" letter-spacing="2">交 货 期</text>
<text x="671.6" y="774.3" font-size="12" fill="#444" text-anchor="middle" dominant-baseline="central" letter-spacing="1.6">Delivery</text>
<rect x="713.7" y="752.8" width="87.7" height="28" rx="4" fill="#b9d0dc" stroke="#444" stroke-width="1"/>
<text x="732" y="767" font-size="22" fill="#222" text-anchor="middle" dominant-baseline="central" font-style="italic">5</text>
<text x="774.5" y="767" font-size="14.5" fill="#222" text-anchor="middle" dominant-baseline="central" >天发货</text>
<path d="M830.00 730.00h2.35v2.35h-2.35zM832.35 730.00h2.35v2.35h-2.35zM834.70 730.00h2.35v2.35h-2.35zM837.06 730.00h2.35v2.35h-2.35zM839.41 730.00h2.35v2.35h-2.35zM841.76 730.00h2.35v2.35h-2.35zM844.11 730.00h2.35v2.35h-2.35zM848.82 730.00h2.35v2.35h-2.35zM851.17 730.00h2.35v2.35h-2.35zM855.87 730.00h2.35v2.35h-2.35zM860.58 730.00h2.35v2.35h-2.35zM862.93 730.00h2.35v2.35h-2.35zM867.63 730.00h2.35v2.35h-2.35zM872.34 730.00h2.35v2.35h-2.35zM874.69 730.00h2.35v2.35h-2.35zM877.04 730.00h2.35v2.35h-2.35zM879.39 730.00h2.35v2.35h-2.35zM881.74 730.00h2.35v2.35h-2.35zM884.10 730.00h2.35v2.35h-2.35zM886.45 730.00h2.35v2.35h-2.35zM830.00 732.35h2.35v2.35h-2.35zM844.11 732.35h2.35v2.35h-2.35zM848.82 732.35h2.35v2.35h-2.35zM851.17 732.35h2.35v2.35h-2.35zM853.52 732.35h2.35v2.35h-2.35zM855.87 732.35h2.35v2.35h-2.35zM860.58 732.35h2.35v2.35h-2.35zM862.93 732.35h2.35v2.35h-2.35zM872.34 732.35h2.35v2.35h-2.35zM886.45 732.35h2.35v2.35h-2.35zM830.00 734.70h2.35v2.35h-2.35zM834.70 734.70h2.35v2.35h-2.35zM837.06 734.70h2.35v2.35h-2.35zM839.41 734.70h2.35v2.35h-2.35zM844.11 734.70h2.35v2.35h-2.35zM851.17 734.70h2.35v2.35h-2.35zM855.87 734.70h2.35v2.35h-2.35zM860.58 734.70h2.35v2.35h-2.35zM862.93 734.70h2.35v2.35h-2.35zM865.28 734.70h2.35v2.35h-2.35zM867.63 734.70h2.35v2.35h-2.35zM872.34 734.70h2.35v2.35h-2.35zM877.04 734.70h2.35v2.35h-2.35zM879.39 734.70h2.35v2.35h-2.35zM881.74 734.70h2.35v2.35h-2.35zM886.45 734.70h2.35v2.35h-2.35zM830.00 737.06h2.35v2.35h-2.35zM834.70 737.06h2.35v2.35h-2.35zM837.06 737.06h2.35v2.35h-2.35zM839.41 737.06h2.35v2.35h-2.35zM844.11 737.06h2.35v2.35h-2.35zM851.17 737.06h2.35v2.35h-2.35zM858.22 737.06h2.35v2.35h-2.35zM862.93 737.06h2.35v2.35h-2.35zM865.28 737.06h2.35v2.35h-2.35zM867.63 737.06h2.35v2.35h-2.35zM872.34 737.06h2.35v2.35h-2.35zM877.04 737.06h2.35v2.35h-2.35zM879.39 737.06h2.35v2.35h-2.35zM881.74 737.06h2.35v2.35h-2.35zM886.45 737.06h2.35v2.35h-2.35zM830.00 739.41h2.35v2.35h-2.35zM834.70 739.41h2.35v2.35h-2.35zM837.06 739.41h2.35v2.35h-2.35zM839.41 739.41h2.35v2.35h-2.35zM844.11 739.41h2.35v2.35h-2.35zM851.17 739.41h2.35v2.35h-2.35zM853.52 739.41h2.35v2.35h-2.35zM860.58 739.41h2.35v2.35h-2.35zM867.63 739.41h2.35v2.35h-2.35zM872.34 739.41h2.35v2.35h-2.35zM877.04 739.41h2.35v2.35h-2.35zM879.39 739.41h2.35v2.35h-2.35zM881.74 739.41h2.35v2.35h-2.35zM886.45 739.41h2.35v2.35h-2.35zM830.00 741.76h2.35v2.35h-2.35zM844.11 741.76h2.35v2.35h-2.35zM858.22 741.76h2.35v2.35h-2.35zM862.93 741.76h2.35v2.35h-2.35zM865.28 741.76h2.35v2.35h-2.35zM872.34 741.76h2.35v2.35h-2.35zM886.45 741.76h2.35v2.35h-2.35zM830.00 744.11h2.35v2.35h-2.35zM832.35 744.11h2.35v2.35h-2.35zM834.70 744.11h2.35v2.35h-2.35zM837.06 744.11h2.35v2.35h-2.35zM839.41 744.11h2.35v2.35h-2.35zM841.76 744.11h2.35v2.35h-2.35zM844.11 744.11h2.35v2.35h-2.35zM848.82 744.11h2.35v2.35h-2.35zM853.52 744.11h2.35v2.35h-2.35zM858.22 744.11h2.35v2.35h-2.35zM862.93 744.11h2.35v2.35h-2.35zM867.63 744.11h2.35v2.35h-2.35zM872.34 744.11h2.35v2.35h-2.35zM874.69 744.11h2.35v2.35h-2.35zM877.04 744.11h2.35v2.35h-2.35zM879.39 744.11h2.35v2.35h-2.35zM881.74 744.11h2.35v2.35h-2.35zM884.10 744.11h2.35v2.35h-2.35zM886.45 744.11h2.35v2.35h-2.35zM848.82 746.46h2.35v2.35h-2.35zM853.52 746.46h2.35v2.35h-2.35zM865.28 746.46h2.35v2.35h-2.35zM844.11 748.82h2.35v2.35h-2.35zM848.82 748.82h2.35v2.35h-2.35zM860.58 748.82h2.35v2.35h-2.35zM862.93 748.82h2.35v2.35h-2.35zM867.63 748.82h2.35v2.35h-2.35zM872.34 748.82h2.35v2.35h-2.35zM874.69 748.82h2.35v2.35h-2.35zM877.04 748.82h2.35v2.35h-2.35zM881.74 748.82h2.35v2.35h-2.35zM884.10 748.82h2.35v2.35h-2.35zM886.45 748.82h2.35v2.35h-2.35zM832.35 751.17h2.35v2.35h-2.35zM834.70 751.17h2.35v2.35h-2.35zM848.82 751.17h2.35v2.35h-2.35zM851.17 751.17h2.35v2.35h-2.35zM853.52 751.17h2.35v2.35h-2.35zM860.58 751.17h2.35v2.35h-2.35zM862.93 751.17h2.35v2.35h-2.35zM865.28 751.17h2.35v2.35h-2.35zM867.63 751.17h2.35v2.35h-2.35zM874.69 751.17h2.35v2.35h-2.35zM877.04 751.17h2.35v2.35h-2.35zM879.39 751.17h2.35v2.35h-2.35zM881.74 751.17h2.35v2.35h-2.35zM839.41 753.52h2.35v2.35h-2.35zM844.11 753.52h2.35v2.35h-2.35zM853.52 753.52h2.35v2.35h-2.35zM855.87 753.52h2.35v2.35h-2.35zM858.22 753.52h2.35v2.35h-2.35zM862.93 753.52h2.35v2.35h-2.35zM865.28 753.52h2.35v2.35h-2.35zM867.63 753.52h2.35v2.35h-2.35zM869.98 753.52h2.35v2.35h-2.35zM872.34 753.52h2.35v2.35h-2.35zM874.69 753.52h2.35v2.35h-2.35zM877.04 753.52h2.35v2.35h-2.35zM879.39 753.52h2.35v2.35h-2.35zM881.74 753.52h2.35v2.35h-2.35zM884.10 753.52h2.35v2.35h-2.35zM886.45 753.52h2.35v2.35h-2.35zM834.70 755.87h2.35v2.35h-2.35zM837.06 755.87h2.35v2.35h-2.35zM839.41 755.87h2.35v2.35h-2.35zM841.76 755.87h2.35v2.35h-2.35zM846.46 755.87h2.35v2.35h-2.35zM858.22 755.87h2.35v2.35h-2.35zM860.58 755.87h2.35v2.35h-2.35zM862.93 755.87h2.35v2.35h-2.35zM865.28 755.87h2.35v2.35h-2.35zM869.98 755.87h2.35v2.35h-2.35zM872.34 755.87h2.35v2.35h-2.35zM879.39 755.87h2.35v2.35h-2.35zM884.10 755.87h2.35v2.35h-2.35zM837.06 758.22h2.35v2.35h-2.35zM839.41 758.22h2.35v2.35h-2.35zM841.76 758.22h2.35v2.35h-2.35zM844.11 758.22h2.35v2.35h-2.35zM853.52 758.22h2.35v2.35h-2.35zM855.87 758.22h2.35v2.35h-2.35zM872.34 758.22h2.35v2.35h-2.35zM877.04 758.22h2.35v2.35h-2.35zM879.39 758.22h2.35v2.35h-2.35zM881.74 758.22h2.35v2.35h-2.35zM884.10 758.22h2.35v2.35h-2.35zM886.45 758.22h2.35v2.35h-2.35zM834.70 760.58h2.35v2.35h-2.35zM846.46 760.58h2.35v2.35h-2.35zM848.82 760.58h2.35v2.35h-2.35zM851.17 760.58h2.35v2.35h-2.35zM853.52 760.58h2.35v2.35h-2.35zM855.87 760.58h2.35v2.35h-2.35zM872.34 760.58h2.35v2.35h-2.35zM886.45 760.58h2.35v2.35h-2.35zM832.35 762.93h2.35v2.35h-2.35zM839.41 762.93h2.35v2.35h-2.35zM841.76 762.93h2.35v2.35h-2.35zM844.11 762.93h2.35v2.35h-2.35zM851.17 762.93h2.35v2.35h-2.35zM853.52 762.93h2.35v2.35h-2.35zM855.87 762.93h2.35v2.35h-2.35zM862.93 762.93h2.35v2.35h-2.35zM872.34 762.93h2.35v2.35h-2.35zM877.04 762.93h2.35v2.35h-2.35zM879.39 762.93h2.35v2.35h-2.35zM832.35 765.28h2.35v2.35h-2.35zM839.41 765.28h2.35v2.35h-2.35zM841.76 765.28h2.35v2.35h-2.35zM846.46 765.28h2.35v2.35h-2.35zM848.82 765.28h2.35v2.35h-2.35zM853.52 765.28h2.35v2.35h-2.35zM855.87 765.28h2.35v2.35h-2.35zM858.22 765.28h2.35v2.35h-2.35zM862.93 765.28h2.35v2.35h-2.35zM872.34 765.28h2.35v2.35h-2.35zM884.10 765.28h2.35v2.35h-2.35zM886.45 765.28h2.35v2.35h-2.35zM830.00 767.63h2.35v2.35h-2.35zM832.35 767.63h2.35v2.35h-2.35zM837.06 767.63h2.35v2.35h-2.35zM844.11 767.63h2.35v2.35h-2.35zM848.82 767.63h2.35v2.35h-2.35zM858.22 767.63h2.35v2.35h-2.35zM862.93 767.63h2.35v2.35h-2.35zM865.28 767.63h2.35v2.35h-2.35zM867.63 767.63h2.35v2.35h-2.35zM869.98 767.63h2.35v2.35h-2.35zM872.34 767.63h2.35v2.35h-2.35zM874.69 767.63h2.35v2.35h-2.35zM877.04 767.63h2.35v2.35h-2.35zM851.17 769.98h2.35v2.35h-2.35zM867.63 769.98h2.35v2.35h-2.35zM877.04 769.98h2.35v2.35h-2.35zM830.00 772.34h2.35v2.35h-2.35zM832.35 772.34h2.35v2.35h-2.35zM834.70 772.34h2.35v2.35h-2.35zM837.06 772.34h2.35v2.35h-2.35zM839.41 772.34h2.35v2.35h-2.35zM841.76 772.34h2.35v2.35h-2.35zM844.11 772.34h2.35v2.35h-2.35zM851.17 772.34h2.35v2.35h-2.35zM860.58 772.34h2.35v2.35h-2.35zM862.93 772.34h2.35v2.35h-2.35zM865.28 772.34h2.35v2.35h-2.35zM867.63 772.34h2.35v2.35h-2.35zM872.34 772.34h2.35v2.35h-2.35zM877.04 772.34h2.35v2.35h-2.35zM879.39 772.34h2.35v2.35h-2.35zM881.74 772.34h2.35v2.35h-2.35zM884.10 772.34h2.35v2.35h-2.35zM830.00 774.69h2.35v2.35h-2.35zM844.11 774.69h2.35v2.35h-2.35zM853.52 774.69h2.35v2.35h-2.35zM860.58 774.69h2.35v2.35h-2.35zM867.63 774.69h2.35v2.35h-2.35zM877.04 774.69h2.35v2.35h-2.35zM879.39 774.69h2.35v2.35h-2.35zM884.10 774.69h2.35v2.35h-2.35zM830.00 777.04h2.35v2.35h-2.35zM834.70 777.04h2.35v2.35h-2.35zM837.06 777.04h2.35v2.35h-2.35zM839.41 777.04h2.35v2.35h-2.35zM844.11 777.04h2.35v2.35h-2.35zM853.52 777.04h2.35v2.35h-2.35zM855.87 777.04h2.35v2.35h-2.35zM860.58 777.04h2.35v2.35h-2.35zM862.93 777.04h2.35v2.35h-2.35zM865.28 777.04h2.35v2.35h-2.35zM867.63 777.04h2.35v2.35h-2.35zM869.98 777.04h2.35v2.35h-2.35zM872.34 777.04h2.35v2.35h-2.35zM874.69 777.04h2.35v2.35h-2.35zM877.04 777.04h2.35v2.35h-2.35zM881.74 777.04h2.35v2.35h-2.35zM886.45 777.04h2.35v2.35h-2.35zM830.00 779.39h2.35v2.35h-2.35zM834.70 779.39h2.35v2.35h-2.35zM837.06 779.39h2.35v2.35h-2.35zM839.41 779.39h2.35v2.35h-2.35zM844.11 779.39h2.35v2.35h-2.35zM848.82 779.39h2.35v2.35h-2.35zM851.17 779.39h2.35v2.35h-2.35zM858.22 779.39h2.35v2.35h-2.35zM867.63 779.39h2.35v2.35h-2.35zM869.98 779.39h2.35v2.35h-2.35zM872.34 779.39h2.35v2.35h-2.35zM877.04 779.39h2.35v2.35h-2.35zM879.39 779.39h2.35v2.35h-2.35zM881.74 779.39h2.35v2.35h-2.35zM830.00 781.74h2.35v2.35h-2.35zM834.70 781.74h2.35v2.35h-2.35zM837.06 781.74h2.35v2.35h-2.35zM839.41 781.74h2.35v2.35h-2.35zM844.11 781.74h2.35v2.35h-2.35zM848.82 781.74h2.35v2.35h-2.35zM851.17 781.74h2.35v2.35h-2.35zM860.58 781.74h2.35v2.35h-2.35zM862.93 781.74h2.35v2.35h-2.35zM867.63 781.74h2.35v2.35h-2.35zM869.98 781.74h2.35v2.35h-2.35zM879.39 781.74h2.35v2.35h-2.35zM884.10 781.74h2.35v2.35h-2.35zM830.00 784.10h2.35v2.35h-2.35zM844.11 784.10h2.35v2.35h-2.35zM851.17 784.10h2.35v2.35h-2.35zM858.22 784.10h2.35v2.35h-2.35zM860.58 784.10h2.35v2.35h-2.35zM865.28 784.10h2.35v2.35h-2.35zM867.63 784.10h2.35v2.35h-2.35zM869.98 784.10h2.35v2.35h-2.35zM872.34 784.10h2.35v2.35h-2.35zM874.69 784.10h2.35v2.35h-2.35zM877.04 784.10h2.35v2.35h-2.35zM879.39 784.10h2.35v2.35h-2.35zM884.10 784.10h2.35v2.35h-2.35zM830.00 786.45h2.35v2.35h-2.35zM832.35 786.45h2.35v2.35h-2.35zM834.70 786.45h2.35v2.35h-2.35zM837.06 786.45h2.35v2.35h-2.35zM839.41 786.45h2.35v2.35h-2.35zM841.76 786.45h2.35v2.35h-2.35zM844.11 786.45h2.35v2.35h-2.35zM848.82 786.45h2.35v2.35h-2.35zM851.17 786.45h2.35v2.35h-2.35zM853.52 786.45h2.35v2.35h-2.35zM855.87 786.45h2.35v2.35h-2.35zM858.22 786.45h2.35v2.35h-2.35zM865.28 786.45h2.35v2.35h-2.35zM872.34 786.45h2.35v2.35h-2.35zM877.04 786.45h2.35v2.35h-2.35zM884.10 786.45h2.35v2.35h-2.35z" fill="#111"/>
<text x="859" y="798.5" font-size="12" fill="#333" text-anchor="middle" dominant-baseline="central" >扫码查价</text>
</svg></body></html>
